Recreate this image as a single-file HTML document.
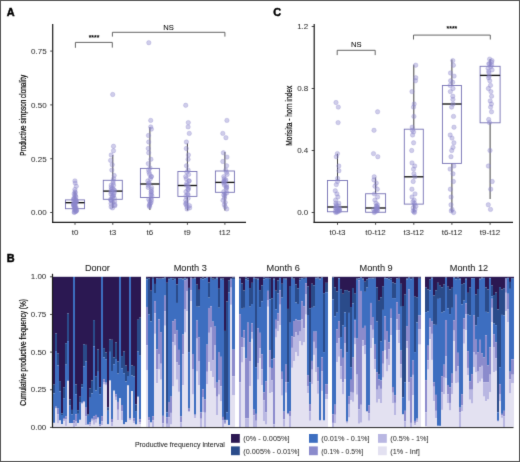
<!DOCTYPE html>
<html><head><meta charset="utf-8"><style>
html,body{margin:0;padding:0;background:#fff;}
svg{display:block;font-family:"Liberation Sans", sans-serif;}
</style></head><body>
<svg width="520" height="462" viewBox="0 0 520 462" shape-rendering="geometricPrecision">
<defs><filter id="soft" x="0" y="0" width="520" height="462" filterUnits="userSpaceOnUse" color-interpolation-filters="sRGB"><feConvolveMatrix order="3" kernelMatrix="0.00937 0.07804 0.00937 0.07804 0.65036 0.07804 0.00937 0.07804 0.00937" edgeMode="duplicate"/></filter></defs>
<g filter="url(#soft)">
<rect width="520" height="462" fill="#fff"/>
<rect x="0.5" y="0.5" width="519" height="461" fill="none" stroke="#555" stroke-width="1"/>
<text x="10.7" y="12.0" font-size="10.9" text-anchor="middle" fill="#000" font-weight="bold" dominant-baseline="central" stroke="#000" stroke-width="0.45">A</text>
<text x="277.2" y="12.4" font-size="10.9" text-anchor="middle" fill="#000" font-weight="bold" dominant-baseline="central" stroke="#000" stroke-width="0.45">C</text>
<text x="10.7" y="257.9" font-size="10.9" text-anchor="middle" fill="#000" font-weight="bold" dominant-baseline="central" stroke="#000" stroke-width="0.45">B</text>
<line x1="52.7" y1="24" x2="52.7" y2="222.9" stroke="#1a1a1a" stroke-width="1.2"/>
<line x1="52.1" y1="222.3" x2="246" y2="222.3" stroke="#1a1a1a" stroke-width="1.2"/>
<line x1="50.2" y1="212.5" x2="52.7" y2="212.5" stroke="#333" stroke-width="0.9"/>
<text x="46.7" y="212.85" font-size="8" text-anchor="end" fill="#333" font-weight="normal" dominant-baseline="central" stroke="#333" stroke-width="0.05">0.00</text>
<line x1="50.2" y1="158.7" x2="52.7" y2="158.7" stroke="#333" stroke-width="0.9"/>
<text x="46.7" y="159.04999999999998" font-size="8" text-anchor="end" fill="#333" font-weight="normal" dominant-baseline="central" stroke="#333" stroke-width="0.05">0.25</text>
<line x1="50.2" y1="104.9" x2="52.7" y2="104.9" stroke="#333" stroke-width="0.9"/>
<text x="46.7" y="105.25" font-size="8" text-anchor="end" fill="#333" font-weight="normal" dominant-baseline="central" stroke="#333" stroke-width="0.05">0.50</text>
<line x1="50.2" y1="51.10000000000002" x2="52.7" y2="51.10000000000002" stroke="#333" stroke-width="0.9"/>
<text x="46.7" y="51.450000000000024" font-size="8" text-anchor="end" fill="#333" font-weight="normal" dominant-baseline="central" stroke="#333" stroke-width="0.05">0.75</text>
<line x1="75.0" y1="222.3" x2="75.0" y2="224.8" stroke="#333" stroke-width="0.9"/>
<text x="75.0" y="232.6" font-size="8" text-anchor="middle" fill="#333" font-weight="normal" dominant-baseline="central" stroke="#333" stroke-width="0.05">t0</text>
<line x1="112.8" y1="222.3" x2="112.8" y2="224.8" stroke="#333" stroke-width="0.9"/>
<text x="112.8" y="232.6" font-size="8" text-anchor="middle" fill="#333" font-weight="normal" dominant-baseline="central" stroke="#333" stroke-width="0.05">t3</text>
<line x1="149.9" y1="222.3" x2="149.9" y2="224.8" stroke="#333" stroke-width="0.9"/>
<text x="149.9" y="232.6" font-size="8" text-anchor="middle" fill="#333" font-weight="normal" dominant-baseline="central" stroke="#333" stroke-width="0.05">t6</text>
<line x1="187.4" y1="222.3" x2="187.4" y2="224.8" stroke="#333" stroke-width="0.9"/>
<text x="187.4" y="232.6" font-size="8" text-anchor="middle" fill="#333" font-weight="normal" dominant-baseline="central" stroke="#333" stroke-width="0.05">t9</text>
<line x1="224.9" y1="222.3" x2="224.9" y2="224.8" stroke="#333" stroke-width="0.9"/>
<text x="224.9" y="232.6" font-size="8" text-anchor="middle" fill="#333" font-weight="normal" dominant-baseline="central" stroke="#333" stroke-width="0.05">t12</text>
<text x="22.85" y="115.2" font-size="9.3" text-anchor="middle" fill="#000" font-weight="normal" dominant-baseline="central" textLength="80.9" lengthAdjust="spacingAndGlyphs" transform="rotate(-90 22.85 115.2)" stroke="#000" stroke-width="0.2">Productive simpson clonality</text>
<polyline points="75.4,47.8 75.4,42.4 112.3,42.4 112.3,47.6" fill="none" stroke="#555" stroke-width="0.9"/>
<text x="94" y="37.6" font-size="6.8" text-anchor="middle" fill="#000" font-weight="bold" dominant-baseline="central" stroke="#000" stroke-width="0.05">****</text>
<polyline points="112.4,36.6 112.4,32.3 224.9,32.3 224.9,36.6" fill="none" stroke="#555" stroke-width="0.9"/>
<text x="168.6" y="27.1" font-size="7.6" text-anchor="middle" fill="#000" font-weight="normal" dominant-baseline="central" stroke="#000" stroke-width="0.05">NS</text>
<line x1="75.0" y1="191.5" x2="75.0" y2="199.9" stroke="#222" stroke-width="0.85"/>
<line x1="75.0" y1="208.7" x2="75.0" y2="212.2" stroke="#222" stroke-width="0.85"/>
<rect x="65.5" y="199.9" width="19" height="8.799999999999983" fill="none" stroke="#7671b4" stroke-width="0.9"/>
<line x1="65.5" y1="202.7" x2="84.5" y2="202.7" stroke="#111" stroke-width="1.35"/>
<circle cx="74.9" cy="180.9" r="2.2" fill="#8d88cc" fill-opacity="0.42" stroke="#8d88cc" stroke-opacity="0.42" stroke-width="0.7"/>
<circle cx="75.2" cy="183.1" r="2.2" fill="#8d88cc" fill-opacity="0.42" stroke="#8d88cc" stroke-opacity="0.42" stroke-width="0.7"/>
<circle cx="76.3" cy="186.3" r="2.2" fill="#8d88cc" fill-opacity="0.42" stroke="#8d88cc" stroke-opacity="0.42" stroke-width="0.7"/>
<circle cx="74.9" cy="189.5" r="2.2" fill="#8d88cc" fill-opacity="0.42" stroke="#8d88cc" stroke-opacity="0.42" stroke-width="0.7"/>
<circle cx="75.0" cy="191.7" r="2.2" fill="#8d88cc" fill-opacity="0.42" stroke="#8d88cc" stroke-opacity="0.42" stroke-width="0.7"/>
<circle cx="75.3" cy="192.8" r="2.2" fill="#8d88cc" fill-opacity="0.42" stroke="#8d88cc" stroke-opacity="0.42" stroke-width="0.7"/>
<circle cx="74.1" cy="193.9" r="2.2" fill="#8d88cc" fill-opacity="0.42" stroke="#8d88cc" stroke-opacity="0.42" stroke-width="0.7"/>
<circle cx="75.0" cy="194.9" r="2.2" fill="#8d88cc" fill-opacity="0.42" stroke="#8d88cc" stroke-opacity="0.42" stroke-width="0.7"/>
<circle cx="75.4" cy="196.0" r="2.2" fill="#8d88cc" fill-opacity="0.42" stroke="#8d88cc" stroke-opacity="0.42" stroke-width="0.7"/>
<circle cx="75.9" cy="197.1" r="2.2" fill="#8d88cc" fill-opacity="0.42" stroke="#8d88cc" stroke-opacity="0.42" stroke-width="0.7"/>
<circle cx="73.8" cy="198.2" r="2.2" fill="#8d88cc" fill-opacity="0.42" stroke="#8d88cc" stroke-opacity="0.42" stroke-width="0.7"/>
<circle cx="74.4" cy="198.6" r="2.2" fill="#8d88cc" fill-opacity="0.42" stroke="#8d88cc" stroke-opacity="0.42" stroke-width="0.7"/>
<circle cx="73.8" cy="199.3" r="2.2" fill="#8d88cc" fill-opacity="0.42" stroke="#8d88cc" stroke-opacity="0.42" stroke-width="0.7"/>
<circle cx="75.9" cy="199.9" r="2.2" fill="#8d88cc" fill-opacity="0.42" stroke="#8d88cc" stroke-opacity="0.42" stroke-width="0.7"/>
<circle cx="75.6" cy="200.3" r="2.2" fill="#8d88cc" fill-opacity="0.42" stroke="#8d88cc" stroke-opacity="0.42" stroke-width="0.7"/>
<circle cx="73.6" cy="200.8" r="2.2" fill="#8d88cc" fill-opacity="0.42" stroke="#8d88cc" stroke-opacity="0.42" stroke-width="0.7"/>
<circle cx="76.4" cy="201.4" r="2.2" fill="#8d88cc" fill-opacity="0.42" stroke="#8d88cc" stroke-opacity="0.42" stroke-width="0.7"/>
<circle cx="76.4" cy="202.1" r="2.2" fill="#8d88cc" fill-opacity="0.42" stroke="#8d88cc" stroke-opacity="0.42" stroke-width="0.7"/>
<circle cx="75.5" cy="202.5" r="2.2" fill="#8d88cc" fill-opacity="0.42" stroke="#8d88cc" stroke-opacity="0.42" stroke-width="0.7"/>
<circle cx="75.3" cy="202.9" r="2.2" fill="#8d88cc" fill-opacity="0.42" stroke="#8d88cc" stroke-opacity="0.42" stroke-width="0.7"/>
<circle cx="74.0" cy="203.4" r="2.2" fill="#8d88cc" fill-opacity="0.42" stroke="#8d88cc" stroke-opacity="0.42" stroke-width="0.7"/>
<circle cx="73.5" cy="203.8" r="2.2" fill="#8d88cc" fill-opacity="0.42" stroke="#8d88cc" stroke-opacity="0.42" stroke-width="0.7"/>
<circle cx="75.1" cy="204.2" r="2.2" fill="#8d88cc" fill-opacity="0.42" stroke="#8d88cc" stroke-opacity="0.42" stroke-width="0.7"/>
<circle cx="73.7" cy="204.7" r="2.2" fill="#8d88cc" fill-opacity="0.42" stroke="#8d88cc" stroke-opacity="0.42" stroke-width="0.7"/>
<circle cx="74.1" cy="205.1" r="2.2" fill="#8d88cc" fill-opacity="0.42" stroke="#8d88cc" stroke-opacity="0.42" stroke-width="0.7"/>
<circle cx="74.2" cy="205.5" r="2.2" fill="#8d88cc" fill-opacity="0.42" stroke="#8d88cc" stroke-opacity="0.42" stroke-width="0.7"/>
<circle cx="73.6" cy="206.0" r="2.2" fill="#8d88cc" fill-opacity="0.42" stroke="#8d88cc" stroke-opacity="0.42" stroke-width="0.7"/>
<circle cx="74.9" cy="206.4" r="2.2" fill="#8d88cc" fill-opacity="0.42" stroke="#8d88cc" stroke-opacity="0.42" stroke-width="0.7"/>
<circle cx="74.8" cy="206.8" r="2.2" fill="#8d88cc" fill-opacity="0.42" stroke="#8d88cc" stroke-opacity="0.42" stroke-width="0.7"/>
<circle cx="76.0" cy="207.3" r="2.2" fill="#8d88cc" fill-opacity="0.42" stroke="#8d88cc" stroke-opacity="0.42" stroke-width="0.7"/>
<circle cx="75.1" cy="207.7" r="2.2" fill="#8d88cc" fill-opacity="0.42" stroke="#8d88cc" stroke-opacity="0.42" stroke-width="0.7"/>
<circle cx="75.4" cy="208.1" r="2.2" fill="#8d88cc" fill-opacity="0.42" stroke="#8d88cc" stroke-opacity="0.42" stroke-width="0.7"/>
<circle cx="75.0" cy="208.5" r="2.2" fill="#8d88cc" fill-opacity="0.42" stroke="#8d88cc" stroke-opacity="0.42" stroke-width="0.7"/>
<circle cx="75.5" cy="209.0" r="2.2" fill="#8d88cc" fill-opacity="0.42" stroke="#8d88cc" stroke-opacity="0.42" stroke-width="0.7"/>
<circle cx="74.9" cy="209.4" r="2.2" fill="#8d88cc" fill-opacity="0.42" stroke="#8d88cc" stroke-opacity="0.42" stroke-width="0.7"/>
<circle cx="74.3" cy="209.8" r="2.2" fill="#8d88cc" fill-opacity="0.42" stroke="#8d88cc" stroke-opacity="0.42" stroke-width="0.7"/>
<circle cx="76.5" cy="210.3" r="2.2" fill="#8d88cc" fill-opacity="0.42" stroke="#8d88cc" stroke-opacity="0.42" stroke-width="0.7"/>
<circle cx="76.5" cy="210.7" r="2.2" fill="#8d88cc" fill-opacity="0.42" stroke="#8d88cc" stroke-opacity="0.42" stroke-width="0.7"/>
<circle cx="76.0" cy="211.1" r="2.2" fill="#8d88cc" fill-opacity="0.42" stroke="#8d88cc" stroke-opacity="0.42" stroke-width="0.7"/>
<circle cx="75.6" cy="211.6" r="2.2" fill="#8d88cc" fill-opacity="0.42" stroke="#8d88cc" stroke-opacity="0.42" stroke-width="0.7"/>
<circle cx="74.4" cy="212.0" r="2.2" fill="#8d88cc" fill-opacity="0.42" stroke="#8d88cc" stroke-opacity="0.42" stroke-width="0.7"/>
<circle cx="74.2" cy="212.4" r="2.2" fill="#8d88cc" fill-opacity="0.42" stroke="#8d88cc" stroke-opacity="0.42" stroke-width="0.7"/>
<line x1="112.8" y1="155" x2="112.8" y2="180.3" stroke="#222" stroke-width="0.85"/>
<line x1="112.8" y1="199.3" x2="112.8" y2="208.0" stroke="#222" stroke-width="0.85"/>
<rect x="103.3" y="180.3" width="19" height="19.0" fill="none" stroke="#7671b4" stroke-width="0.9"/>
<line x1="103.3" y1="191.1" x2="122.3" y2="191.1" stroke="#111" stroke-width="1.35"/>
<circle cx="112.7" cy="94.5" r="2.2" fill="#8d88cc" fill-opacity="0.42" stroke="#8d88cc" stroke-opacity="0.42" stroke-width="0.7"/>
<circle cx="113.5" cy="146.3" r="2.2" fill="#8d88cc" fill-opacity="0.42" stroke="#8d88cc" stroke-opacity="0.42" stroke-width="0.7"/>
<circle cx="113.5" cy="150.7" r="2.2" fill="#8d88cc" fill-opacity="0.42" stroke="#8d88cc" stroke-opacity="0.42" stroke-width="0.7"/>
<circle cx="111.2" cy="155.0" r="2.2" fill="#8d88cc" fill-opacity="0.42" stroke="#8d88cc" stroke-opacity="0.42" stroke-width="0.7"/>
<circle cx="110.6" cy="160.4" r="2.2" fill="#8d88cc" fill-opacity="0.42" stroke="#8d88cc" stroke-opacity="0.42" stroke-width="0.7"/>
<circle cx="112.2" cy="164.7" r="2.2" fill="#8d88cc" fill-opacity="0.42" stroke="#8d88cc" stroke-opacity="0.42" stroke-width="0.7"/>
<circle cx="111.8" cy="170.1" r="2.2" fill="#8d88cc" fill-opacity="0.42" stroke="#8d88cc" stroke-opacity="0.42" stroke-width="0.7"/>
<circle cx="114.2" cy="175.5" r="2.2" fill="#8d88cc" fill-opacity="0.42" stroke="#8d88cc" stroke-opacity="0.42" stroke-width="0.7"/>
<circle cx="113.6" cy="178.7" r="2.2" fill="#8d88cc" fill-opacity="0.42" stroke="#8d88cc" stroke-opacity="0.42" stroke-width="0.7"/>
<circle cx="113.2" cy="180.9" r="2.2" fill="#8d88cc" fill-opacity="0.42" stroke="#8d88cc" stroke-opacity="0.42" stroke-width="0.7"/>
<circle cx="113.1" cy="183.1" r="2.2" fill="#8d88cc" fill-opacity="0.42" stroke="#8d88cc" stroke-opacity="0.42" stroke-width="0.7"/>
<circle cx="113.5" cy="185.2" r="2.2" fill="#8d88cc" fill-opacity="0.42" stroke="#8d88cc" stroke-opacity="0.42" stroke-width="0.7"/>
<circle cx="111.2" cy="187.4" r="2.2" fill="#8d88cc" fill-opacity="0.42" stroke="#8d88cc" stroke-opacity="0.42" stroke-width="0.7"/>
<circle cx="112.5" cy="188.5" r="2.2" fill="#8d88cc" fill-opacity="0.42" stroke="#8d88cc" stroke-opacity="0.42" stroke-width="0.7"/>
<circle cx="111.3" cy="189.5" r="2.2" fill="#8d88cc" fill-opacity="0.42" stroke="#8d88cc" stroke-opacity="0.42" stroke-width="0.7"/>
<circle cx="114.6" cy="190.6" r="2.2" fill="#8d88cc" fill-opacity="0.42" stroke="#8d88cc" stroke-opacity="0.42" stroke-width="0.7"/>
<circle cx="110.9" cy="191.7" r="2.2" fill="#8d88cc" fill-opacity="0.42" stroke="#8d88cc" stroke-opacity="0.42" stroke-width="0.7"/>
<circle cx="114.2" cy="192.8" r="2.2" fill="#8d88cc" fill-opacity="0.42" stroke="#8d88cc" stroke-opacity="0.42" stroke-width="0.7"/>
<circle cx="110.9" cy="193.9" r="2.2" fill="#8d88cc" fill-opacity="0.42" stroke="#8d88cc" stroke-opacity="0.42" stroke-width="0.7"/>
<circle cx="113.6" cy="194.9" r="2.2" fill="#8d88cc" fill-opacity="0.42" stroke="#8d88cc" stroke-opacity="0.42" stroke-width="0.7"/>
<circle cx="112.1" cy="196.0" r="2.2" fill="#8d88cc" fill-opacity="0.42" stroke="#8d88cc" stroke-opacity="0.42" stroke-width="0.7"/>
<circle cx="112.4" cy="197.1" r="2.2" fill="#8d88cc" fill-opacity="0.42" stroke="#8d88cc" stroke-opacity="0.42" stroke-width="0.7"/>
<circle cx="114.3" cy="198.2" r="2.2" fill="#8d88cc" fill-opacity="0.42" stroke="#8d88cc" stroke-opacity="0.42" stroke-width="0.7"/>
<circle cx="110.7" cy="199.3" r="2.2" fill="#8d88cc" fill-opacity="0.42" stroke="#8d88cc" stroke-opacity="0.42" stroke-width="0.7"/>
<circle cx="110.9" cy="200.3" r="2.2" fill="#8d88cc" fill-opacity="0.42" stroke="#8d88cc" stroke-opacity="0.42" stroke-width="0.7"/>
<circle cx="114.6" cy="201.4" r="2.2" fill="#8d88cc" fill-opacity="0.42" stroke="#8d88cc" stroke-opacity="0.42" stroke-width="0.7"/>
<circle cx="112.8" cy="202.5" r="2.2" fill="#8d88cc" fill-opacity="0.42" stroke="#8d88cc" stroke-opacity="0.42" stroke-width="0.7"/>
<circle cx="111.0" cy="203.6" r="2.2" fill="#8d88cc" fill-opacity="0.42" stroke="#8d88cc" stroke-opacity="0.42" stroke-width="0.7"/>
<circle cx="114.9" cy="204.7" r="2.2" fill="#8d88cc" fill-opacity="0.42" stroke="#8d88cc" stroke-opacity="0.42" stroke-width="0.7"/>
<circle cx="114.8" cy="205.7" r="2.2" fill="#8d88cc" fill-opacity="0.42" stroke="#8d88cc" stroke-opacity="0.42" stroke-width="0.7"/>
<circle cx="111.1" cy="206.8" r="2.2" fill="#8d88cc" fill-opacity="0.42" stroke="#8d88cc" stroke-opacity="0.42" stroke-width="0.7"/>
<circle cx="112.5" cy="207.9" r="2.2" fill="#8d88cc" fill-opacity="0.42" stroke="#8d88cc" stroke-opacity="0.42" stroke-width="0.7"/>
<circle cx="111.2" cy="185.2" r="2.2" fill="#8d88cc" fill-opacity="0.42" stroke="#8d88cc" stroke-opacity="0.42" stroke-width="0.7"/>
<circle cx="112.0" cy="191.7" r="2.2" fill="#8d88cc" fill-opacity="0.42" stroke="#8d88cc" stroke-opacity="0.42" stroke-width="0.7"/>
<circle cx="113.3" cy="196.0" r="2.2" fill="#8d88cc" fill-opacity="0.42" stroke="#8d88cc" stroke-opacity="0.42" stroke-width="0.7"/>
<circle cx="111.3" cy="200.3" r="2.2" fill="#8d88cc" fill-opacity="0.42" stroke="#8d88cc" stroke-opacity="0.42" stroke-width="0.7"/>
<circle cx="113.7" cy="189.5" r="2.2" fill="#8d88cc" fill-opacity="0.42" stroke="#8d88cc" stroke-opacity="0.42" stroke-width="0.7"/>
<line x1="149.9" y1="127.2" x2="149.9" y2="168.4" stroke="#222" stroke-width="0.85"/>
<line x1="149.9" y1="197.5" x2="149.9" y2="210" stroke="#222" stroke-width="0.85"/>
<rect x="140.4" y="168.4" width="19" height="29.099999999999994" fill="none" stroke="#7671b4" stroke-width="0.9"/>
<line x1="140.4" y1="184" x2="159.4" y2="184" stroke="#111" stroke-width="1.35"/>
<circle cx="148.8" cy="42.7" r="2.2" fill="#8d88cc" fill-opacity="0.42" stroke="#8d88cc" stroke-opacity="0.42" stroke-width="0.7"/>
<circle cx="150.7" cy="120.4" r="2.2" fill="#8d88cc" fill-opacity="0.42" stroke="#8d88cc" stroke-opacity="0.42" stroke-width="0.7"/>
<circle cx="150.7" cy="126.9" r="2.2" fill="#8d88cc" fill-opacity="0.42" stroke="#8d88cc" stroke-opacity="0.42" stroke-width="0.7"/>
<circle cx="151.4" cy="129.1" r="2.2" fill="#8d88cc" fill-opacity="0.42" stroke="#8d88cc" stroke-opacity="0.42" stroke-width="0.7"/>
<circle cx="148.5" cy="135.5" r="2.2" fill="#8d88cc" fill-opacity="0.42" stroke="#8d88cc" stroke-opacity="0.42" stroke-width="0.7"/>
<circle cx="148.7" cy="142.0" r="2.2" fill="#8d88cc" fill-opacity="0.42" stroke="#8d88cc" stroke-opacity="0.42" stroke-width="0.7"/>
<circle cx="148.3" cy="148.5" r="2.2" fill="#8d88cc" fill-opacity="0.42" stroke="#8d88cc" stroke-opacity="0.42" stroke-width="0.7"/>
<circle cx="148.7" cy="152.8" r="2.2" fill="#8d88cc" fill-opacity="0.42" stroke="#8d88cc" stroke-opacity="0.42" stroke-width="0.7"/>
<circle cx="150.9" cy="159.3" r="2.2" fill="#8d88cc" fill-opacity="0.42" stroke="#8d88cc" stroke-opacity="0.42" stroke-width="0.7"/>
<circle cx="148.3" cy="163.6" r="2.2" fill="#8d88cc" fill-opacity="0.42" stroke="#8d88cc" stroke-opacity="0.42" stroke-width="0.7"/>
<circle cx="150.0" cy="167.9" r="2.2" fill="#8d88cc" fill-opacity="0.42" stroke="#8d88cc" stroke-opacity="0.42" stroke-width="0.7"/>
<circle cx="148.6" cy="170.1" r="2.2" fill="#8d88cc" fill-opacity="0.42" stroke="#8d88cc" stroke-opacity="0.42" stroke-width="0.7"/>
<circle cx="149.0" cy="172.3" r="2.2" fill="#8d88cc" fill-opacity="0.42" stroke="#8d88cc" stroke-opacity="0.42" stroke-width="0.7"/>
<circle cx="149.6" cy="174.4" r="2.2" fill="#8d88cc" fill-opacity="0.42" stroke="#8d88cc" stroke-opacity="0.42" stroke-width="0.7"/>
<circle cx="151.4" cy="176.6" r="2.2" fill="#8d88cc" fill-opacity="0.42" stroke="#8d88cc" stroke-opacity="0.42" stroke-width="0.7"/>
<circle cx="150.4" cy="178.7" r="2.2" fill="#8d88cc" fill-opacity="0.42" stroke="#8d88cc" stroke-opacity="0.42" stroke-width="0.7"/>
<circle cx="147.8" cy="180.9" r="2.2" fill="#8d88cc" fill-opacity="0.42" stroke="#8d88cc" stroke-opacity="0.42" stroke-width="0.7"/>
<circle cx="148.9" cy="183.1" r="2.2" fill="#8d88cc" fill-opacity="0.42" stroke="#8d88cc" stroke-opacity="0.42" stroke-width="0.7"/>
<circle cx="148.3" cy="185.2" r="2.2" fill="#8d88cc" fill-opacity="0.42" stroke="#8d88cc" stroke-opacity="0.42" stroke-width="0.7"/>
<circle cx="151.5" cy="187.4" r="2.2" fill="#8d88cc" fill-opacity="0.42" stroke="#8d88cc" stroke-opacity="0.42" stroke-width="0.7"/>
<circle cx="151.3" cy="189.5" r="2.2" fill="#8d88cc" fill-opacity="0.42" stroke="#8d88cc" stroke-opacity="0.42" stroke-width="0.7"/>
<circle cx="151.2" cy="191.7" r="2.2" fill="#8d88cc" fill-opacity="0.42" stroke="#8d88cc" stroke-opacity="0.42" stroke-width="0.7"/>
<circle cx="151.3" cy="193.9" r="2.2" fill="#8d88cc" fill-opacity="0.42" stroke="#8d88cc" stroke-opacity="0.42" stroke-width="0.7"/>
<circle cx="151.0" cy="194.9" r="2.2" fill="#8d88cc" fill-opacity="0.42" stroke="#8d88cc" stroke-opacity="0.42" stroke-width="0.7"/>
<circle cx="151.9" cy="196.0" r="2.2" fill="#8d88cc" fill-opacity="0.42" stroke="#8d88cc" stroke-opacity="0.42" stroke-width="0.7"/>
<circle cx="151.2" cy="198.2" r="2.2" fill="#8d88cc" fill-opacity="0.42" stroke="#8d88cc" stroke-opacity="0.42" stroke-width="0.7"/>
<circle cx="148.8" cy="199.3" r="2.2" fill="#8d88cc" fill-opacity="0.42" stroke="#8d88cc" stroke-opacity="0.42" stroke-width="0.7"/>
<circle cx="151.4" cy="200.3" r="2.2" fill="#8d88cc" fill-opacity="0.42" stroke="#8d88cc" stroke-opacity="0.42" stroke-width="0.7"/>
<circle cx="149.8" cy="201.4" r="2.2" fill="#8d88cc" fill-opacity="0.42" stroke="#8d88cc" stroke-opacity="0.42" stroke-width="0.7"/>
<circle cx="151.0" cy="202.5" r="2.2" fill="#8d88cc" fill-opacity="0.42" stroke="#8d88cc" stroke-opacity="0.42" stroke-width="0.7"/>
<circle cx="150.2" cy="203.6" r="2.2" fill="#8d88cc" fill-opacity="0.42" stroke="#8d88cc" stroke-opacity="0.42" stroke-width="0.7"/>
<circle cx="149.6" cy="204.7" r="2.2" fill="#8d88cc" fill-opacity="0.42" stroke="#8d88cc" stroke-opacity="0.42" stroke-width="0.7"/>
<circle cx="149.3" cy="205.7" r="2.2" fill="#8d88cc" fill-opacity="0.42" stroke="#8d88cc" stroke-opacity="0.42" stroke-width="0.7"/>
<circle cx="149.6" cy="206.8" r="2.2" fill="#8d88cc" fill-opacity="0.42" stroke="#8d88cc" stroke-opacity="0.42" stroke-width="0.7"/>
<circle cx="149.1" cy="183.1" r="2.2" fill="#8d88cc" fill-opacity="0.42" stroke="#8d88cc" stroke-opacity="0.42" stroke-width="0.7"/>
<circle cx="148.2" cy="187.4" r="2.2" fill="#8d88cc" fill-opacity="0.42" stroke="#8d88cc" stroke-opacity="0.42" stroke-width="0.7"/>
<circle cx="151.3" cy="191.7" r="2.2" fill="#8d88cc" fill-opacity="0.42" stroke="#8d88cc" stroke-opacity="0.42" stroke-width="0.7"/>
<circle cx="151.2" cy="176.6" r="2.2" fill="#8d88cc" fill-opacity="0.42" stroke="#8d88cc" stroke-opacity="0.42" stroke-width="0.7"/>
<line x1="187.4" y1="143.3" x2="187.4" y2="171.5" stroke="#222" stroke-width="0.85"/>
<line x1="187.4" y1="196.4" x2="187.4" y2="210.5" stroke="#222" stroke-width="0.85"/>
<rect x="177.9" y="171.5" width="19" height="24.900000000000006" fill="none" stroke="#7671b4" stroke-width="0.9"/>
<line x1="177.9" y1="185.5" x2="196.9" y2="185.5" stroke="#111" stroke-width="1.35"/>
<circle cx="185.7" cy="105.3" r="2.2" fill="#8d88cc" fill-opacity="0.42" stroke="#8d88cc" stroke-opacity="0.42" stroke-width="0.7"/>
<circle cx="188.3" cy="122.6" r="2.2" fill="#8d88cc" fill-opacity="0.42" stroke="#8d88cc" stroke-opacity="0.42" stroke-width="0.7"/>
<circle cx="188.1" cy="126.9" r="2.2" fill="#8d88cc" fill-opacity="0.42" stroke="#8d88cc" stroke-opacity="0.42" stroke-width="0.7"/>
<circle cx="189.3" cy="133.4" r="2.2" fill="#8d88cc" fill-opacity="0.42" stroke="#8d88cc" stroke-opacity="0.42" stroke-width="0.7"/>
<circle cx="186.4" cy="142.0" r="2.2" fill="#8d88cc" fill-opacity="0.42" stroke="#8d88cc" stroke-opacity="0.42" stroke-width="0.7"/>
<circle cx="186.3" cy="148.5" r="2.2" fill="#8d88cc" fill-opacity="0.42" stroke="#8d88cc" stroke-opacity="0.42" stroke-width="0.7"/>
<circle cx="188.4" cy="155.0" r="2.2" fill="#8d88cc" fill-opacity="0.42" stroke="#8d88cc" stroke-opacity="0.42" stroke-width="0.7"/>
<circle cx="188.1" cy="159.3" r="2.2" fill="#8d88cc" fill-opacity="0.42" stroke="#8d88cc" stroke-opacity="0.42" stroke-width="0.7"/>
<circle cx="186.5" cy="165.8" r="2.2" fill="#8d88cc" fill-opacity="0.42" stroke="#8d88cc" stroke-opacity="0.42" stroke-width="0.7"/>
<circle cx="188.2" cy="170.1" r="2.2" fill="#8d88cc" fill-opacity="0.42" stroke="#8d88cc" stroke-opacity="0.42" stroke-width="0.7"/>
<circle cx="186.9" cy="172.3" r="2.2" fill="#8d88cc" fill-opacity="0.42" stroke="#8d88cc" stroke-opacity="0.42" stroke-width="0.7"/>
<circle cx="188.6" cy="174.4" r="2.2" fill="#8d88cc" fill-opacity="0.42" stroke="#8d88cc" stroke-opacity="0.42" stroke-width="0.7"/>
<circle cx="185.7" cy="176.6" r="2.2" fill="#8d88cc" fill-opacity="0.42" stroke="#8d88cc" stroke-opacity="0.42" stroke-width="0.7"/>
<circle cx="186.2" cy="178.7" r="2.2" fill="#8d88cc" fill-opacity="0.42" stroke="#8d88cc" stroke-opacity="0.42" stroke-width="0.7"/>
<circle cx="189.2" cy="180.9" r="2.2" fill="#8d88cc" fill-opacity="0.42" stroke="#8d88cc" stroke-opacity="0.42" stroke-width="0.7"/>
<circle cx="186.8" cy="183.1" r="2.2" fill="#8d88cc" fill-opacity="0.42" stroke="#8d88cc" stroke-opacity="0.42" stroke-width="0.7"/>
<circle cx="186.3" cy="185.2" r="2.2" fill="#8d88cc" fill-opacity="0.42" stroke="#8d88cc" stroke-opacity="0.42" stroke-width="0.7"/>
<circle cx="188.7" cy="187.4" r="2.2" fill="#8d88cc" fill-opacity="0.42" stroke="#8d88cc" stroke-opacity="0.42" stroke-width="0.7"/>
<circle cx="188.0" cy="189.5" r="2.2" fill="#8d88cc" fill-opacity="0.42" stroke="#8d88cc" stroke-opacity="0.42" stroke-width="0.7"/>
<circle cx="185.9" cy="191.7" r="2.2" fill="#8d88cc" fill-opacity="0.42" stroke="#8d88cc" stroke-opacity="0.42" stroke-width="0.7"/>
<circle cx="187.6" cy="193.9" r="2.2" fill="#8d88cc" fill-opacity="0.42" stroke="#8d88cc" stroke-opacity="0.42" stroke-width="0.7"/>
<circle cx="188.1" cy="194.9" r="2.2" fill="#8d88cc" fill-opacity="0.42" stroke="#8d88cc" stroke-opacity="0.42" stroke-width="0.7"/>
<circle cx="185.9" cy="196.0" r="2.2" fill="#8d88cc" fill-opacity="0.42" stroke="#8d88cc" stroke-opacity="0.42" stroke-width="0.7"/>
<circle cx="188.1" cy="198.2" r="2.2" fill="#8d88cc" fill-opacity="0.42" stroke="#8d88cc" stroke-opacity="0.42" stroke-width="0.7"/>
<circle cx="185.7" cy="200.3" r="2.2" fill="#8d88cc" fill-opacity="0.42" stroke="#8d88cc" stroke-opacity="0.42" stroke-width="0.7"/>
<circle cx="186.7" cy="202.5" r="2.2" fill="#8d88cc" fill-opacity="0.42" stroke="#8d88cc" stroke-opacity="0.42" stroke-width="0.7"/>
<circle cx="185.6" cy="203.6" r="2.2" fill="#8d88cc" fill-opacity="0.42" stroke="#8d88cc" stroke-opacity="0.42" stroke-width="0.7"/>
<circle cx="186.1" cy="204.7" r="2.2" fill="#8d88cc" fill-opacity="0.42" stroke="#8d88cc" stroke-opacity="0.42" stroke-width="0.7"/>
<circle cx="189.5" cy="205.7" r="2.2" fill="#8d88cc" fill-opacity="0.42" stroke="#8d88cc" stroke-opacity="0.42" stroke-width="0.7"/>
<circle cx="187.0" cy="206.8" r="2.2" fill="#8d88cc" fill-opacity="0.42" stroke="#8d88cc" stroke-opacity="0.42" stroke-width="0.7"/>
<circle cx="189.6" cy="207.9" r="2.2" fill="#8d88cc" fill-opacity="0.42" stroke="#8d88cc" stroke-opacity="0.42" stroke-width="0.7"/>
<circle cx="187.1" cy="209.0" r="2.2" fill="#8d88cc" fill-opacity="0.42" stroke="#8d88cc" stroke-opacity="0.42" stroke-width="0.7"/>
<circle cx="187.9" cy="185.2" r="2.2" fill="#8d88cc" fill-opacity="0.42" stroke="#8d88cc" stroke-opacity="0.42" stroke-width="0.7"/>
<circle cx="189.0" cy="180.9" r="2.2" fill="#8d88cc" fill-opacity="0.42" stroke="#8d88cc" stroke-opacity="0.42" stroke-width="0.7"/>
<circle cx="188.2" cy="189.5" r="2.2" fill="#8d88cc" fill-opacity="0.42" stroke="#8d88cc" stroke-opacity="0.42" stroke-width="0.7"/>
<line x1="224.9" y1="152" x2="224.9" y2="171" stroke="#222" stroke-width="0.85"/>
<line x1="224.9" y1="192.3" x2="224.9" y2="210.5" stroke="#222" stroke-width="0.85"/>
<rect x="215.4" y="171" width="19" height="21.30000000000001" fill="none" stroke="#7671b4" stroke-width="0.9"/>
<line x1="215.4" y1="182.4" x2="234.4" y2="182.4" stroke="#111" stroke-width="1.35"/>
<circle cx="226.9" cy="120.4" r="2.2" fill="#8d88cc" fill-opacity="0.42" stroke="#8d88cc" stroke-opacity="0.42" stroke-width="0.7"/>
<circle cx="222.8" cy="133.4" r="2.2" fill="#8d88cc" fill-opacity="0.42" stroke="#8d88cc" stroke-opacity="0.42" stroke-width="0.7"/>
<circle cx="225.9" cy="137.7" r="2.2" fill="#8d88cc" fill-opacity="0.42" stroke="#8d88cc" stroke-opacity="0.42" stroke-width="0.7"/>
<circle cx="223.4" cy="152.8" r="2.2" fill="#8d88cc" fill-opacity="0.42" stroke="#8d88cc" stroke-opacity="0.42" stroke-width="0.7"/>
<circle cx="227.0" cy="157.1" r="2.2" fill="#8d88cc" fill-opacity="0.42" stroke="#8d88cc" stroke-opacity="0.42" stroke-width="0.7"/>
<circle cx="222.8" cy="161.5" r="2.2" fill="#8d88cc" fill-opacity="0.42" stroke="#8d88cc" stroke-opacity="0.42" stroke-width="0.7"/>
<circle cx="226.6" cy="165.8" r="2.2" fill="#8d88cc" fill-opacity="0.42" stroke="#8d88cc" stroke-opacity="0.42" stroke-width="0.7"/>
<circle cx="225.7" cy="170.1" r="2.2" fill="#8d88cc" fill-opacity="0.42" stroke="#8d88cc" stroke-opacity="0.42" stroke-width="0.7"/>
<circle cx="226.5" cy="172.3" r="2.2" fill="#8d88cc" fill-opacity="0.42" stroke="#8d88cc" stroke-opacity="0.42" stroke-width="0.7"/>
<circle cx="227.1" cy="174.4" r="2.2" fill="#8d88cc" fill-opacity="0.42" stroke="#8d88cc" stroke-opacity="0.42" stroke-width="0.7"/>
<circle cx="223.8" cy="176.6" r="2.2" fill="#8d88cc" fill-opacity="0.42" stroke="#8d88cc" stroke-opacity="0.42" stroke-width="0.7"/>
<circle cx="224.2" cy="178.7" r="2.2" fill="#8d88cc" fill-opacity="0.42" stroke="#8d88cc" stroke-opacity="0.42" stroke-width="0.7"/>
<circle cx="225.8" cy="179.8" r="2.2" fill="#8d88cc" fill-opacity="0.42" stroke="#8d88cc" stroke-opacity="0.42" stroke-width="0.7"/>
<circle cx="223.9" cy="180.9" r="2.2" fill="#8d88cc" fill-opacity="0.42" stroke="#8d88cc" stroke-opacity="0.42" stroke-width="0.7"/>
<circle cx="223.9" cy="182.0" r="2.2" fill="#8d88cc" fill-opacity="0.42" stroke="#8d88cc" stroke-opacity="0.42" stroke-width="0.7"/>
<circle cx="223.7" cy="183.1" r="2.2" fill="#8d88cc" fill-opacity="0.42" stroke="#8d88cc" stroke-opacity="0.42" stroke-width="0.7"/>
<circle cx="226.5" cy="185.2" r="2.2" fill="#8d88cc" fill-opacity="0.42" stroke="#8d88cc" stroke-opacity="0.42" stroke-width="0.7"/>
<circle cx="226.5" cy="187.4" r="2.2" fill="#8d88cc" fill-opacity="0.42" stroke="#8d88cc" stroke-opacity="0.42" stroke-width="0.7"/>
<circle cx="226.2" cy="189.5" r="2.2" fill="#8d88cc" fill-opacity="0.42" stroke="#8d88cc" stroke-opacity="0.42" stroke-width="0.7"/>
<circle cx="223.7" cy="191.7" r="2.2" fill="#8d88cc" fill-opacity="0.42" stroke="#8d88cc" stroke-opacity="0.42" stroke-width="0.7"/>
<circle cx="226.8" cy="192.8" r="2.2" fill="#8d88cc" fill-opacity="0.42" stroke="#8d88cc" stroke-opacity="0.42" stroke-width="0.7"/>
<circle cx="225.0" cy="193.9" r="2.2" fill="#8d88cc" fill-opacity="0.42" stroke="#8d88cc" stroke-opacity="0.42" stroke-width="0.7"/>
<circle cx="223.7" cy="194.9" r="2.2" fill="#8d88cc" fill-opacity="0.42" stroke="#8d88cc" stroke-opacity="0.42" stroke-width="0.7"/>
<circle cx="224.7" cy="196.0" r="2.2" fill="#8d88cc" fill-opacity="0.42" stroke="#8d88cc" stroke-opacity="0.42" stroke-width="0.7"/>
<circle cx="224.5" cy="198.2" r="2.2" fill="#8d88cc" fill-opacity="0.42" stroke="#8d88cc" stroke-opacity="0.42" stroke-width="0.7"/>
<circle cx="223.0" cy="200.3" r="2.2" fill="#8d88cc" fill-opacity="0.42" stroke="#8d88cc" stroke-opacity="0.42" stroke-width="0.7"/>
<circle cx="225.2" cy="202.5" r="2.2" fill="#8d88cc" fill-opacity="0.42" stroke="#8d88cc" stroke-opacity="0.42" stroke-width="0.7"/>
<circle cx="224.3" cy="204.7" r="2.2" fill="#8d88cc" fill-opacity="0.42" stroke="#8d88cc" stroke-opacity="0.42" stroke-width="0.7"/>
<circle cx="225.2" cy="206.8" r="2.2" fill="#8d88cc" fill-opacity="0.42" stroke="#8d88cc" stroke-opacity="0.42" stroke-width="0.7"/>
<circle cx="226.8" cy="209.0" r="2.2" fill="#8d88cc" fill-opacity="0.42" stroke="#8d88cc" stroke-opacity="0.42" stroke-width="0.7"/>
<circle cx="225.5" cy="180.9" r="2.2" fill="#8d88cc" fill-opacity="0.42" stroke="#8d88cc" stroke-opacity="0.42" stroke-width="0.7"/>
<circle cx="224.5" cy="185.2" r="2.2" fill="#8d88cc" fill-opacity="0.42" stroke="#8d88cc" stroke-opacity="0.42" stroke-width="0.7"/>
<circle cx="226.5" cy="187.4" r="2.2" fill="#8d88cc" fill-opacity="0.42" stroke="#8d88cc" stroke-opacity="0.42" stroke-width="0.7"/>
<line x1="314.2" y1="24" x2="314.2" y2="222.9" stroke="#1a1a1a" stroke-width="1.2"/>
<line x1="313.59999999999997" y1="222.3" x2="513" y2="222.3" stroke="#1a1a1a" stroke-width="1.2"/>
<line x1="311.7" y1="212.5" x2="314.2" y2="212.5" stroke="#333" stroke-width="0.9"/>
<text x="308.3" y="212.2" font-size="8" text-anchor="end" fill="#333" font-weight="normal" dominant-baseline="central" stroke="#333" stroke-width="0.05">0.0</text>
<line x1="311.7" y1="150.5" x2="314.2" y2="150.5" stroke="#333" stroke-width="0.9"/>
<text x="308.3" y="150.2" font-size="8" text-anchor="end" fill="#333" font-weight="normal" dominant-baseline="central" stroke="#333" stroke-width="0.05">0.4</text>
<line x1="311.7" y1="88.5" x2="314.2" y2="88.5" stroke="#333" stroke-width="0.9"/>
<text x="308.3" y="88.2" font-size="8" text-anchor="end" fill="#333" font-weight="normal" dominant-baseline="central" stroke="#333" stroke-width="0.05">0.8</text>
<line x1="311.7" y1="26.5" x2="314.2" y2="26.5" stroke="#333" stroke-width="0.9"/>
<text x="308.3" y="26.2" font-size="8" text-anchor="end" fill="#333" font-weight="normal" dominant-baseline="central" stroke="#333" stroke-width="0.05">1.2</text>
<line x1="337.5" y1="222.3" x2="337.5" y2="224.8" stroke="#333" stroke-width="0.9"/>
<text x="337.5" y="232.6" font-size="8" text-anchor="middle" fill="#333" font-weight="normal" dominant-baseline="central" stroke="#333" stroke-width="0.05">t0-t3</text>
<line x1="375.6" y1="222.3" x2="375.6" y2="224.8" stroke="#333" stroke-width="0.9"/>
<text x="375.6" y="232.6" font-size="8" text-anchor="middle" fill="#333" font-weight="normal" dominant-baseline="central" stroke="#333" stroke-width="0.05">t0-t12</text>
<line x1="413.8" y1="222.3" x2="413.8" y2="224.8" stroke="#333" stroke-width="0.9"/>
<text x="413.8" y="232.6" font-size="8" text-anchor="middle" fill="#333" font-weight="normal" dominant-baseline="central" stroke="#333" stroke-width="0.05">t3-t12</text>
<line x1="451.9" y1="222.3" x2="451.9" y2="224.8" stroke="#333" stroke-width="0.9"/>
<text x="451.9" y="232.6" font-size="8" text-anchor="middle" fill="#333" font-weight="normal" dominant-baseline="central" stroke="#333" stroke-width="0.05">t6-t12</text>
<line x1="490.1" y1="222.3" x2="490.1" y2="224.8" stroke="#333" stroke-width="0.9"/>
<text x="490.1" y="232.6" font-size="8" text-anchor="middle" fill="#333" font-weight="normal" dominant-baseline="central" stroke="#333" stroke-width="0.05">t9-t12</text>
<text x="288.8" y="115.75" font-size="9.3" text-anchor="middle" fill="#000" font-weight="normal" dominant-baseline="central" textLength="60.1" lengthAdjust="spacingAndGlyphs" transform="rotate(-90 288.8 115.75)" stroke="#000" stroke-width="0.2">Morisita - horn index</text>
<polyline points="337.2,55.1 337.2,50.3 375.2,50.3 375.2,55.1" fill="none" stroke="#555" stroke-width="0.9"/>
<text x="356.2" y="44.6" font-size="7.6" text-anchor="middle" fill="#000" font-weight="normal" dominant-baseline="central" stroke="#000" stroke-width="0.05">NS</text>
<polyline points="413.5,39.5 413.5,35.1 490.3,35.1 490.3,39.5" fill="none" stroke="#555" stroke-width="0.9"/>
<text x="451.9" y="28.7" font-size="6.8" text-anchor="middle" fill="#000" font-weight="bold" dominant-baseline="central" stroke="#000" stroke-width="0.05">****</text>
<line x1="337.5" y1="153.75" x2="337.5" y2="180.5" stroke="#222" stroke-width="0.85"/>
<line x1="337.5" y1="211.75" x2="337.5" y2="212.5" stroke="#222" stroke-width="0.85"/>
<rect x="327.5" y="180.5" width="20" height="31.25" fill="none" stroke="#7671b4" stroke-width="0.9"/>
<line x1="327.5" y1="207" x2="347.5" y2="207" stroke="#111" stroke-width="1.35"/>
<circle cx="336.0" cy="102.5" r="2.2" fill="#8d88cc" fill-opacity="0.42" stroke="#8d88cc" stroke-opacity="0.42" stroke-width="0.7"/>
<circle cx="338.3" cy="107.1" r="2.2" fill="#8d88cc" fill-opacity="0.42" stroke="#8d88cc" stroke-opacity="0.42" stroke-width="0.7"/>
<circle cx="338.1" cy="122.6" r="2.2" fill="#8d88cc" fill-opacity="0.42" stroke="#8d88cc" stroke-opacity="0.42" stroke-width="0.7"/>
<circle cx="337.4" cy="153.6" r="2.2" fill="#8d88cc" fill-opacity="0.42" stroke="#8d88cc" stroke-opacity="0.42" stroke-width="0.7"/>
<circle cx="336.3" cy="156.7" r="2.2" fill="#8d88cc" fill-opacity="0.42" stroke="#8d88cc" stroke-opacity="0.42" stroke-width="0.7"/>
<circle cx="338.8" cy="166.0" r="2.2" fill="#8d88cc" fill-opacity="0.42" stroke="#8d88cc" stroke-opacity="0.42" stroke-width="0.7"/>
<circle cx="338.9" cy="170.7" r="2.2" fill="#8d88cc" fill-opacity="0.42" stroke="#8d88cc" stroke-opacity="0.42" stroke-width="0.7"/>
<circle cx="337.6" cy="178.4" r="2.2" fill="#8d88cc" fill-opacity="0.42" stroke="#8d88cc" stroke-opacity="0.42" stroke-width="0.7"/>
<circle cx="337.5" cy="181.5" r="2.2" fill="#8d88cc" fill-opacity="0.42" stroke="#8d88cc" stroke-opacity="0.42" stroke-width="0.7"/>
<circle cx="336.3" cy="184.6" r="2.2" fill="#8d88cc" fill-opacity="0.42" stroke="#8d88cc" stroke-opacity="0.42" stroke-width="0.7"/>
<circle cx="335.3" cy="190.8" r="2.2" fill="#8d88cc" fill-opacity="0.42" stroke="#8d88cc" stroke-opacity="0.42" stroke-width="0.7"/>
<circle cx="336.9" cy="193.9" r="2.2" fill="#8d88cc" fill-opacity="0.42" stroke="#8d88cc" stroke-opacity="0.42" stroke-width="0.7"/>
<circle cx="337.9" cy="197.0" r="2.2" fill="#8d88cc" fill-opacity="0.42" stroke="#8d88cc" stroke-opacity="0.42" stroke-width="0.7"/>
<circle cx="335.6" cy="200.1" r="2.2" fill="#8d88cc" fill-opacity="0.42" stroke="#8d88cc" stroke-opacity="0.42" stroke-width="0.7"/>
<circle cx="338.8" cy="203.2" r="2.2" fill="#8d88cc" fill-opacity="0.42" stroke="#8d88cc" stroke-opacity="0.42" stroke-width="0.7"/>
<circle cx="336.3" cy="204.8" r="2.2" fill="#8d88cc" fill-opacity="0.42" stroke="#8d88cc" stroke-opacity="0.42" stroke-width="0.7"/>
<circle cx="336.3" cy="206.3" r="2.2" fill="#8d88cc" fill-opacity="0.42" stroke="#8d88cc" stroke-opacity="0.42" stroke-width="0.7"/>
<circle cx="335.5" cy="207.8" r="2.2" fill="#8d88cc" fill-opacity="0.42" stroke="#8d88cc" stroke-opacity="0.42" stroke-width="0.7"/>
<circle cx="339.7" cy="208.6" r="2.2" fill="#8d88cc" fill-opacity="0.42" stroke="#8d88cc" stroke-opacity="0.42" stroke-width="0.7"/>
<circle cx="338.6" cy="209.4" r="2.2" fill="#8d88cc" fill-opacity="0.42" stroke="#8d88cc" stroke-opacity="0.42" stroke-width="0.7"/>
<circle cx="339.2" cy="210.2" r="2.2" fill="#8d88cc" fill-opacity="0.42" stroke="#8d88cc" stroke-opacity="0.42" stroke-width="0.7"/>
<circle cx="338.0" cy="210.9" r="2.2" fill="#8d88cc" fill-opacity="0.42" stroke="#8d88cc" stroke-opacity="0.42" stroke-width="0.7"/>
<circle cx="335.4" cy="211.3" r="2.2" fill="#8d88cc" fill-opacity="0.42" stroke="#8d88cc" stroke-opacity="0.42" stroke-width="0.7"/>
<circle cx="336.7" cy="211.7" r="2.2" fill="#8d88cc" fill-opacity="0.42" stroke="#8d88cc" stroke-opacity="0.42" stroke-width="0.7"/>
<circle cx="337.5" cy="212.0" r="2.2" fill="#8d88cc" fill-opacity="0.42" stroke="#8d88cc" stroke-opacity="0.42" stroke-width="0.7"/>
<circle cx="335.8" cy="212.5" r="2.2" fill="#8d88cc" fill-opacity="0.42" stroke="#8d88cc" stroke-opacity="0.42" stroke-width="0.7"/>
<circle cx="339.5" cy="210.9" r="2.2" fill="#8d88cc" fill-opacity="0.42" stroke="#8d88cc" stroke-opacity="0.42" stroke-width="0.7"/>
<circle cx="336.9" cy="209.4" r="2.2" fill="#8d88cc" fill-opacity="0.42" stroke="#8d88cc" stroke-opacity="0.42" stroke-width="0.7"/>
<circle cx="336.0" cy="207.8" r="2.2" fill="#8d88cc" fill-opacity="0.42" stroke="#8d88cc" stroke-opacity="0.42" stroke-width="0.7"/>
<circle cx="338.9" cy="206.3" r="2.2" fill="#8d88cc" fill-opacity="0.42" stroke="#8d88cc" stroke-opacity="0.42" stroke-width="0.7"/>
<circle cx="335.8" cy="203.2" r="2.2" fill="#8d88cc" fill-opacity="0.42" stroke="#8d88cc" stroke-opacity="0.42" stroke-width="0.7"/>
<line x1="375.6" y1="177.5" x2="375.6" y2="193.75" stroke="#222" stroke-width="0.85"/>
<line x1="375.6" y1="212.25" x2="375.6" y2="212.5" stroke="#222" stroke-width="0.85"/>
<rect x="365.6" y="193.75" width="20" height="18.5" fill="none" stroke="#7671b4" stroke-width="0.9"/>
<line x1="365.6" y1="208" x2="385.6" y2="208" stroke="#111" stroke-width="1.35"/>
<circle cx="377.6" cy="111.8" r="2.2" fill="#8d88cc" fill-opacity="0.42" stroke="#8d88cc" stroke-opacity="0.42" stroke-width="0.7"/>
<circle cx="374.0" cy="130.3" r="2.2" fill="#8d88cc" fill-opacity="0.42" stroke="#8d88cc" stroke-opacity="0.42" stroke-width="0.7"/>
<circle cx="373.5" cy="153.6" r="2.2" fill="#8d88cc" fill-opacity="0.42" stroke="#8d88cc" stroke-opacity="0.42" stroke-width="0.7"/>
<circle cx="377.8" cy="156.7" r="2.2" fill="#8d88cc" fill-opacity="0.42" stroke="#8d88cc" stroke-opacity="0.42" stroke-width="0.7"/>
<circle cx="374.2" cy="176.8" r="2.2" fill="#8d88cc" fill-opacity="0.42" stroke="#8d88cc" stroke-opacity="0.42" stroke-width="0.7"/>
<circle cx="373.9" cy="179.9" r="2.2" fill="#8d88cc" fill-opacity="0.42" stroke="#8d88cc" stroke-opacity="0.42" stroke-width="0.7"/>
<circle cx="376.3" cy="183.1" r="2.2" fill="#8d88cc" fill-opacity="0.42" stroke="#8d88cc" stroke-opacity="0.42" stroke-width="0.7"/>
<circle cx="374.9" cy="186.2" r="2.2" fill="#8d88cc" fill-opacity="0.42" stroke="#8d88cc" stroke-opacity="0.42" stroke-width="0.7"/>
<circle cx="377.3" cy="189.2" r="2.2" fill="#8d88cc" fill-opacity="0.42" stroke="#8d88cc" stroke-opacity="0.42" stroke-width="0.7"/>
<circle cx="374.4" cy="193.9" r="2.2" fill="#8d88cc" fill-opacity="0.42" stroke="#8d88cc" stroke-opacity="0.42" stroke-width="0.7"/>
<circle cx="377.6" cy="197.0" r="2.2" fill="#8d88cc" fill-opacity="0.42" stroke="#8d88cc" stroke-opacity="0.42" stroke-width="0.7"/>
<circle cx="374.8" cy="200.1" r="2.2" fill="#8d88cc" fill-opacity="0.42" stroke="#8d88cc" stroke-opacity="0.42" stroke-width="0.7"/>
<circle cx="376.0" cy="203.2" r="2.2" fill="#8d88cc" fill-opacity="0.42" stroke="#8d88cc" stroke-opacity="0.42" stroke-width="0.7"/>
<circle cx="377.5" cy="204.8" r="2.2" fill="#8d88cc" fill-opacity="0.42" stroke="#8d88cc" stroke-opacity="0.42" stroke-width="0.7"/>
<circle cx="376.4" cy="206.3" r="2.2" fill="#8d88cc" fill-opacity="0.42" stroke="#8d88cc" stroke-opacity="0.42" stroke-width="0.7"/>
<circle cx="377.5" cy="207.8" r="2.2" fill="#8d88cc" fill-opacity="0.42" stroke="#8d88cc" stroke-opacity="0.42" stroke-width="0.7"/>
<circle cx="376.5" cy="208.6" r="2.2" fill="#8d88cc" fill-opacity="0.42" stroke="#8d88cc" stroke-opacity="0.42" stroke-width="0.7"/>
<circle cx="373.6" cy="209.4" r="2.2" fill="#8d88cc" fill-opacity="0.42" stroke="#8d88cc" stroke-opacity="0.42" stroke-width="0.7"/>
<circle cx="377.3" cy="210.2" r="2.2" fill="#8d88cc" fill-opacity="0.42" stroke="#8d88cc" stroke-opacity="0.42" stroke-width="0.7"/>
<circle cx="376.0" cy="210.9" r="2.2" fill="#8d88cc" fill-opacity="0.42" stroke="#8d88cc" stroke-opacity="0.42" stroke-width="0.7"/>
<circle cx="374.8" cy="211.7" r="2.2" fill="#8d88cc" fill-opacity="0.42" stroke="#8d88cc" stroke-opacity="0.42" stroke-width="0.7"/>
<circle cx="374.2" cy="212.5" r="2.2" fill="#8d88cc" fill-opacity="0.42" stroke="#8d88cc" stroke-opacity="0.42" stroke-width="0.7"/>
<circle cx="377.1" cy="210.9" r="2.2" fill="#8d88cc" fill-opacity="0.42" stroke="#8d88cc" stroke-opacity="0.42" stroke-width="0.7"/>
<circle cx="376.0" cy="209.4" r="2.2" fill="#8d88cc" fill-opacity="0.42" stroke="#8d88cc" stroke-opacity="0.42" stroke-width="0.7"/>
<circle cx="377.5" cy="207.8" r="2.2" fill="#8d88cc" fill-opacity="0.42" stroke="#8d88cc" stroke-opacity="0.42" stroke-width="0.7"/>
<circle cx="376.8" cy="206.3" r="2.2" fill="#8d88cc" fill-opacity="0.42" stroke="#8d88cc" stroke-opacity="0.42" stroke-width="0.7"/>
<line x1="413.8" y1="64.7" x2="413.8" y2="129.2" stroke="#222" stroke-width="0.85"/>
<line x1="413.8" y1="204.1" x2="413.8" y2="212.3" stroke="#222" stroke-width="0.85"/>
<rect x="404.3" y="129.2" width="19" height="74.9" fill="none" stroke="#7671b4" stroke-width="0.9"/>
<line x1="404.3" y1="176.8" x2="423.3" y2="176.8" stroke="#111" stroke-width="1.35"/>
<circle cx="415.7" cy="65.2" r="2.2" fill="#8d88cc" fill-opacity="0.42" stroke="#8d88cc" stroke-opacity="0.42" stroke-width="0.7"/>
<circle cx="415.8" cy="77.7" r="2.2" fill="#8d88cc" fill-opacity="0.42" stroke="#8d88cc" stroke-opacity="0.42" stroke-width="0.7"/>
<circle cx="415.5" cy="80.8" r="2.2" fill="#8d88cc" fill-opacity="0.42" stroke="#8d88cc" stroke-opacity="0.42" stroke-width="0.7"/>
<circle cx="412.0" cy="91.6" r="2.2" fill="#8d88cc" fill-opacity="0.42" stroke="#8d88cc" stroke-opacity="0.42" stroke-width="0.7"/>
<circle cx="414.2" cy="104.0" r="2.2" fill="#8d88cc" fill-opacity="0.42" stroke="#8d88cc" stroke-opacity="0.42" stroke-width="0.7"/>
<circle cx="413.5" cy="107.1" r="2.2" fill="#8d88cc" fill-opacity="0.42" stroke="#8d88cc" stroke-opacity="0.42" stroke-width="0.7"/>
<circle cx="413.9" cy="116.4" r="2.2" fill="#8d88cc" fill-opacity="0.42" stroke="#8d88cc" stroke-opacity="0.42" stroke-width="0.7"/>
<circle cx="412.2" cy="127.2" r="2.2" fill="#8d88cc" fill-opacity="0.42" stroke="#8d88cc" stroke-opacity="0.42" stroke-width="0.7"/>
<circle cx="412.4" cy="130.3" r="2.2" fill="#8d88cc" fill-opacity="0.42" stroke="#8d88cc" stroke-opacity="0.42" stroke-width="0.7"/>
<circle cx="413.6" cy="131.9" r="2.2" fill="#8d88cc" fill-opacity="0.42" stroke="#8d88cc" stroke-opacity="0.42" stroke-width="0.7"/>
<circle cx="412.6" cy="135.0" r="2.2" fill="#8d88cc" fill-opacity="0.42" stroke="#8d88cc" stroke-opacity="0.42" stroke-width="0.7"/>
<circle cx="413.6" cy="142.8" r="2.2" fill="#8d88cc" fill-opacity="0.42" stroke="#8d88cc" stroke-opacity="0.42" stroke-width="0.7"/>
<circle cx="411.7" cy="150.5" r="2.2" fill="#8d88cc" fill-opacity="0.42" stroke="#8d88cc" stroke-opacity="0.42" stroke-width="0.7"/>
<circle cx="412.0" cy="162.9" r="2.2" fill="#8d88cc" fill-opacity="0.42" stroke="#8d88cc" stroke-opacity="0.42" stroke-width="0.7"/>
<circle cx="414.7" cy="166.0" r="2.2" fill="#8d88cc" fill-opacity="0.42" stroke="#8d88cc" stroke-opacity="0.42" stroke-width="0.7"/>
<circle cx="413.5" cy="169.1" r="2.2" fill="#8d88cc" fill-opacity="0.42" stroke="#8d88cc" stroke-opacity="0.42" stroke-width="0.7"/>
<circle cx="413.9" cy="173.8" r="2.2" fill="#8d88cc" fill-opacity="0.42" stroke="#8d88cc" stroke-opacity="0.42" stroke-width="0.7"/>
<circle cx="414.8" cy="176.8" r="2.2" fill="#8d88cc" fill-opacity="0.42" stroke="#8d88cc" stroke-opacity="0.42" stroke-width="0.7"/>
<circle cx="413.2" cy="181.5" r="2.2" fill="#8d88cc" fill-opacity="0.42" stroke="#8d88cc" stroke-opacity="0.42" stroke-width="0.7"/>
<circle cx="411.9" cy="189.2" r="2.2" fill="#8d88cc" fill-opacity="0.42" stroke="#8d88cc" stroke-opacity="0.42" stroke-width="0.7"/>
<circle cx="415.0" cy="193.9" r="2.2" fill="#8d88cc" fill-opacity="0.42" stroke="#8d88cc" stroke-opacity="0.42" stroke-width="0.7"/>
<circle cx="414.2" cy="200.1" r="2.2" fill="#8d88cc" fill-opacity="0.42" stroke="#8d88cc" stroke-opacity="0.42" stroke-width="0.7"/>
<circle cx="414.5" cy="203.2" r="2.2" fill="#8d88cc" fill-opacity="0.42" stroke="#8d88cc" stroke-opacity="0.42" stroke-width="0.7"/>
<circle cx="414.3" cy="204.8" r="2.2" fill="#8d88cc" fill-opacity="0.42" stroke="#8d88cc" stroke-opacity="0.42" stroke-width="0.7"/>
<circle cx="415.9" cy="206.3" r="2.2" fill="#8d88cc" fill-opacity="0.42" stroke="#8d88cc" stroke-opacity="0.42" stroke-width="0.7"/>
<circle cx="413.2" cy="207.8" r="2.2" fill="#8d88cc" fill-opacity="0.42" stroke="#8d88cc" stroke-opacity="0.42" stroke-width="0.7"/>
<circle cx="414.9" cy="209.4" r="2.2" fill="#8d88cc" fill-opacity="0.42" stroke="#8d88cc" stroke-opacity="0.42" stroke-width="0.7"/>
<circle cx="413.2" cy="210.9" r="2.2" fill="#8d88cc" fill-opacity="0.42" stroke="#8d88cc" stroke-opacity="0.42" stroke-width="0.7"/>
<circle cx="414.1" cy="211.7" r="2.2" fill="#8d88cc" fill-opacity="0.42" stroke="#8d88cc" stroke-opacity="0.42" stroke-width="0.7"/>
<circle cx="414.5" cy="212.5" r="2.2" fill="#8d88cc" fill-opacity="0.42" stroke="#8d88cc" stroke-opacity="0.42" stroke-width="0.7"/>
<circle cx="413.0" cy="201.7" r="2.2" fill="#8d88cc" fill-opacity="0.42" stroke="#8d88cc" stroke-opacity="0.42" stroke-width="0.7"/>
<circle cx="412.0" cy="197.0" r="2.2" fill="#8d88cc" fill-opacity="0.42" stroke="#8d88cc" stroke-opacity="0.42" stroke-width="0.7"/>
<line x1="451.9" y1="59.5" x2="451.9" y2="85.5" stroke="#222" stroke-width="0.85"/>
<line x1="451.9" y1="163.4" x2="451.9" y2="212.3" stroke="#222" stroke-width="0.85"/>
<rect x="442.4" y="85.5" width="19" height="77.9" fill="none" stroke="#7671b4" stroke-width="0.9"/>
<line x1="442.4" y1="104" x2="461.4" y2="104" stroke="#111" stroke-width="1.35"/>
<circle cx="452.8" cy="60.6" r="2.2" fill="#8d88cc" fill-opacity="0.42" stroke="#8d88cc" stroke-opacity="0.42" stroke-width="0.7"/>
<circle cx="453.4" cy="65.2" r="2.2" fill="#8d88cc" fill-opacity="0.42" stroke="#8d88cc" stroke-opacity="0.42" stroke-width="0.7"/>
<circle cx="450.5" cy="73.0" r="2.2" fill="#8d88cc" fill-opacity="0.42" stroke="#8d88cc" stroke-opacity="0.42" stroke-width="0.7"/>
<circle cx="454.1" cy="76.1" r="2.2" fill="#8d88cc" fill-opacity="0.42" stroke="#8d88cc" stroke-opacity="0.42" stroke-width="0.7"/>
<circle cx="450.6" cy="80.8" r="2.2" fill="#8d88cc" fill-opacity="0.42" stroke="#8d88cc" stroke-opacity="0.42" stroke-width="0.7"/>
<circle cx="452.7" cy="82.3" r="2.2" fill="#8d88cc" fill-opacity="0.42" stroke="#8d88cc" stroke-opacity="0.42" stroke-width="0.7"/>
<circle cx="450.1" cy="85.4" r="2.2" fill="#8d88cc" fill-opacity="0.42" stroke="#8d88cc" stroke-opacity="0.42" stroke-width="0.7"/>
<circle cx="453.0" cy="88.5" r="2.2" fill="#8d88cc" fill-opacity="0.42" stroke="#8d88cc" stroke-opacity="0.42" stroke-width="0.7"/>
<circle cx="450.4" cy="91.6" r="2.2" fill="#8d88cc" fill-opacity="0.42" stroke="#8d88cc" stroke-opacity="0.42" stroke-width="0.7"/>
<circle cx="452.8" cy="96.2" r="2.2" fill="#8d88cc" fill-opacity="0.42" stroke="#8d88cc" stroke-opacity="0.42" stroke-width="0.7"/>
<circle cx="452.9" cy="99.4" r="2.2" fill="#8d88cc" fill-opacity="0.42" stroke="#8d88cc" stroke-opacity="0.42" stroke-width="0.7"/>
<circle cx="453.1" cy="104.0" r="2.2" fill="#8d88cc" fill-opacity="0.42" stroke="#8d88cc" stroke-opacity="0.42" stroke-width="0.7"/>
<circle cx="451.6" cy="107.1" r="2.2" fill="#8d88cc" fill-opacity="0.42" stroke="#8d88cc" stroke-opacity="0.42" stroke-width="0.7"/>
<circle cx="453.5" cy="116.4" r="2.2" fill="#8d88cc" fill-opacity="0.42" stroke="#8d88cc" stroke-opacity="0.42" stroke-width="0.7"/>
<circle cx="454.0" cy="127.2" r="2.2" fill="#8d88cc" fill-opacity="0.42" stroke="#8d88cc" stroke-opacity="0.42" stroke-width="0.7"/>
<circle cx="450.2" cy="135.0" r="2.2" fill="#8d88cc" fill-opacity="0.42" stroke="#8d88cc" stroke-opacity="0.42" stroke-width="0.7"/>
<circle cx="452.0" cy="138.1" r="2.2" fill="#8d88cc" fill-opacity="0.42" stroke="#8d88cc" stroke-opacity="0.42" stroke-width="0.7"/>
<circle cx="453.9" cy="142.8" r="2.2" fill="#8d88cc" fill-opacity="0.42" stroke="#8d88cc" stroke-opacity="0.42" stroke-width="0.7"/>
<circle cx="453.0" cy="147.4" r="2.2" fill="#8d88cc" fill-opacity="0.42" stroke="#8d88cc" stroke-opacity="0.42" stroke-width="0.7"/>
<circle cx="451.7" cy="150.5" r="2.2" fill="#8d88cc" fill-opacity="0.42" stroke="#8d88cc" stroke-opacity="0.42" stroke-width="0.7"/>
<circle cx="451.0" cy="156.7" r="2.2" fill="#8d88cc" fill-opacity="0.42" stroke="#8d88cc" stroke-opacity="0.42" stroke-width="0.7"/>
<circle cx="453.9" cy="166.0" r="2.2" fill="#8d88cc" fill-opacity="0.42" stroke="#8d88cc" stroke-opacity="0.42" stroke-width="0.7"/>
<circle cx="450.1" cy="169.1" r="2.2" fill="#8d88cc" fill-opacity="0.42" stroke="#8d88cc" stroke-opacity="0.42" stroke-width="0.7"/>
<circle cx="453.0" cy="173.8" r="2.2" fill="#8d88cc" fill-opacity="0.42" stroke="#8d88cc" stroke-opacity="0.42" stroke-width="0.7"/>
<circle cx="453.4" cy="181.5" r="2.2" fill="#8d88cc" fill-opacity="0.42" stroke="#8d88cc" stroke-opacity="0.42" stroke-width="0.7"/>
<circle cx="450.4" cy="189.2" r="2.2" fill="#8d88cc" fill-opacity="0.42" stroke="#8d88cc" stroke-opacity="0.42" stroke-width="0.7"/>
<circle cx="451.1" cy="197.0" r="2.2" fill="#8d88cc" fill-opacity="0.42" stroke="#8d88cc" stroke-opacity="0.42" stroke-width="0.7"/>
<circle cx="451.0" cy="204.8" r="2.2" fill="#8d88cc" fill-opacity="0.42" stroke="#8d88cc" stroke-opacity="0.42" stroke-width="0.7"/>
<circle cx="452.1" cy="209.4" r="2.2" fill="#8d88cc" fill-opacity="0.42" stroke="#8d88cc" stroke-opacity="0.42" stroke-width="0.7"/>
<circle cx="451.3" cy="210.9" r="2.2" fill="#8d88cc" fill-opacity="0.42" stroke="#8d88cc" stroke-opacity="0.42" stroke-width="0.7"/>
<circle cx="453.6" cy="212.5" r="2.2" fill="#8d88cc" fill-opacity="0.42" stroke="#8d88cc" stroke-opacity="0.42" stroke-width="0.7"/>
<line x1="490.1" y1="59" x2="490.1" y2="66.3" stroke="#222" stroke-width="0.85"/>
<line x1="490.1" y1="122.8" x2="490.1" y2="199" stroke="#222" stroke-width="0.85"/>
<rect x="480.1" y="66.3" width="20" height="56.5" fill="none" stroke="#7671b4" stroke-width="0.9"/>
<line x1="480.1" y1="75.4" x2="500.1" y2="75.4" stroke="#111" stroke-width="1.35"/>
<circle cx="489.6" cy="59.1" r="2.2" fill="#8d88cc" fill-opacity="0.42" stroke="#8d88cc" stroke-opacity="0.42" stroke-width="0.7"/>
<circle cx="492.0" cy="60.6" r="2.2" fill="#8d88cc" fill-opacity="0.42" stroke="#8d88cc" stroke-opacity="0.42" stroke-width="0.7"/>
<circle cx="491.6" cy="62.2" r="2.2" fill="#8d88cc" fill-opacity="0.42" stroke="#8d88cc" stroke-opacity="0.42" stroke-width="0.7"/>
<circle cx="488.8" cy="63.7" r="2.2" fill="#8d88cc" fill-opacity="0.42" stroke="#8d88cc" stroke-opacity="0.42" stroke-width="0.7"/>
<circle cx="491.7" cy="65.2" r="2.2" fill="#8d88cc" fill-opacity="0.42" stroke="#8d88cc" stroke-opacity="0.42" stroke-width="0.7"/>
<circle cx="490.7" cy="66.8" r="2.2" fill="#8d88cc" fill-opacity="0.42" stroke="#8d88cc" stroke-opacity="0.42" stroke-width="0.7"/>
<circle cx="488.1" cy="68.3" r="2.2" fill="#8d88cc" fill-opacity="0.42" stroke="#8d88cc" stroke-opacity="0.42" stroke-width="0.7"/>
<circle cx="492.1" cy="69.9" r="2.2" fill="#8d88cc" fill-opacity="0.42" stroke="#8d88cc" stroke-opacity="0.42" stroke-width="0.7"/>
<circle cx="489.0" cy="73.0" r="2.2" fill="#8d88cc" fill-opacity="0.42" stroke="#8d88cc" stroke-opacity="0.42" stroke-width="0.7"/>
<circle cx="489.2" cy="76.1" r="2.2" fill="#8d88cc" fill-opacity="0.42" stroke="#8d88cc" stroke-opacity="0.42" stroke-width="0.7"/>
<circle cx="489.8" cy="80.8" r="2.2" fill="#8d88cc" fill-opacity="0.42" stroke="#8d88cc" stroke-opacity="0.42" stroke-width="0.7"/>
<circle cx="490.5" cy="85.4" r="2.2" fill="#8d88cc" fill-opacity="0.42" stroke="#8d88cc" stroke-opacity="0.42" stroke-width="0.7"/>
<circle cx="488.4" cy="88.5" r="2.2" fill="#8d88cc" fill-opacity="0.42" stroke="#8d88cc" stroke-opacity="0.42" stroke-width="0.7"/>
<circle cx="490.9" cy="91.6" r="2.2" fill="#8d88cc" fill-opacity="0.42" stroke="#8d88cc" stroke-opacity="0.42" stroke-width="0.7"/>
<circle cx="491.6" cy="96.2" r="2.2" fill="#8d88cc" fill-opacity="0.42" stroke="#8d88cc" stroke-opacity="0.42" stroke-width="0.7"/>
<circle cx="490.2" cy="100.9" r="2.2" fill="#8d88cc" fill-opacity="0.42" stroke="#8d88cc" stroke-opacity="0.42" stroke-width="0.7"/>
<circle cx="491.4" cy="104.0" r="2.2" fill="#8d88cc" fill-opacity="0.42" stroke="#8d88cc" stroke-opacity="0.42" stroke-width="0.7"/>
<circle cx="490.6" cy="107.1" r="2.2" fill="#8d88cc" fill-opacity="0.42" stroke="#8d88cc" stroke-opacity="0.42" stroke-width="0.7"/>
<circle cx="491.5" cy="111.8" r="2.2" fill="#8d88cc" fill-opacity="0.42" stroke="#8d88cc" stroke-opacity="0.42" stroke-width="0.7"/>
<circle cx="488.7" cy="119.5" r="2.2" fill="#8d88cc" fill-opacity="0.42" stroke="#8d88cc" stroke-opacity="0.42" stroke-width="0.7"/>
<circle cx="489.5" cy="122.6" r="2.2" fill="#8d88cc" fill-opacity="0.42" stroke="#8d88cc" stroke-opacity="0.42" stroke-width="0.7"/>
<circle cx="490.0" cy="150.5" r="2.2" fill="#8d88cc" fill-opacity="0.42" stroke="#8d88cc" stroke-opacity="0.42" stroke-width="0.7"/>
<circle cx="488.4" cy="166.0" r="2.2" fill="#8d88cc" fill-opacity="0.42" stroke="#8d88cc" stroke-opacity="0.42" stroke-width="0.7"/>
<circle cx="492.2" cy="181.5" r="2.2" fill="#8d88cc" fill-opacity="0.42" stroke="#8d88cc" stroke-opacity="0.42" stroke-width="0.7"/>
<circle cx="490.7" cy="189.2" r="2.2" fill="#8d88cc" fill-opacity="0.42" stroke="#8d88cc" stroke-opacity="0.42" stroke-width="0.7"/>
<circle cx="488.3" cy="204.8" r="2.2" fill="#8d88cc" fill-opacity="0.42" stroke="#8d88cc" stroke-opacity="0.42" stroke-width="0.7"/>
<circle cx="490.5" cy="209.4" r="2.2" fill="#8d88cc" fill-opacity="0.42" stroke="#8d88cc" stroke-opacity="0.42" stroke-width="0.7"/>
<circle cx="489.7" cy="63.7" r="2.2" fill="#8d88cc" fill-opacity="0.42" stroke="#8d88cc" stroke-opacity="0.42" stroke-width="0.7"/>
<circle cx="488.7" cy="71.4" r="2.2" fill="#8d88cc" fill-opacity="0.42" stroke="#8d88cc" stroke-opacity="0.42" stroke-width="0.7"/>
<circle cx="488.6" cy="77.7" r="2.2" fill="#8d88cc" fill-opacity="0.42" stroke="#8d88cc" stroke-opacity="0.42" stroke-width="0.7"/>
<text x="97.4" y="268.2" font-size="9.2" text-anchor="middle" fill="#1a1a1a" font-weight="normal" dominant-baseline="central" stroke="#1a1a1a" stroke-width="0.05">Donor</text>
<rect x="53" y="276.80" width="2" height="107.84" fill="#2b1852"/>
<rect x="53" y="384.64" width="2" height="8.79" fill="#2a4b8a"/>
<rect x="53" y="393.43" width="2" height="29.44" fill="#3d6ec0"/>
<rect x="53" y="422.87" width="2" height="4.53" fill="#e3e1f1"/>
<rect x="55" y="276.80" width="2" height="56.75" fill="#2b1852"/>
<rect x="55" y="333.55" width="2" height="17.50" fill="#2a4b8a"/>
<rect x="55" y="351.04" width="2" height="55.71" fill="#3d6ec0"/>
<rect x="55" y="406.75" width="2" height="1.20" fill="#8b8bcc"/>
<rect x="55" y="407.95" width="2" height="0.66" fill="#b9b7e2"/>
<rect x="55" y="408.62" width="2" height="18.78" fill="#e3e1f1"/>
<rect x="57" y="276.80" width="2" height="76.83" fill="#2b1852"/>
<rect x="57" y="353.63" width="2" height="11.78" fill="#2a4b8a"/>
<rect x="57" y="365.41" width="2" height="43.21" fill="#3d6ec0"/>
<rect x="57" y="408.61" width="2" height="5.83" fill="#8b8bcc"/>
<rect x="57" y="414.44" width="2" height="9.08" fill="#b9b7e2"/>
<rect x="57" y="423.52" width="2" height="3.88" fill="#e3e1f1"/>
<rect x="59" y="276.80" width="2" height="104.27" fill="#2b1852"/>
<rect x="59" y="381.07" width="2" height="10.23" fill="#2a4b8a"/>
<rect x="59" y="391.30" width="2" height="29.26" fill="#3d6ec0"/>
<rect x="59" y="420.55" width="2" height="6.85" fill="#e3e1f1"/>
<rect x="61" y="276.80" width="2" height="136.44" fill="#2b1852"/>
<rect x="61" y="413.24" width="2" height="1.76" fill="#2a4b8a"/>
<rect x="61" y="415.00" width="2" height="9.06" fill="#3d6ec0"/>
<rect x="61" y="424.06" width="2" height="3.34" fill="#e3e1f1"/>
<rect x="63" y="276.80" width="2" height="110.43" fill="#2b1852"/>
<rect x="63" y="387.23" width="2" height="10.91" fill="#2a4b8a"/>
<rect x="63" y="398.13" width="2" height="19.84" fill="#3d6ec0"/>
<rect x="63" y="417.98" width="2" height="1.03" fill="#8b8bcc"/>
<rect x="63" y="419.00" width="2" height="2.20" fill="#b9b7e2"/>
<rect x="63" y="421.20" width="2" height="6.20" fill="#e3e1f1"/>
<rect x="65" y="276.80" width="2" height="66.37" fill="#2b1852"/>
<rect x="65" y="343.17" width="2" height="21.52" fill="#2a4b8a"/>
<rect x="65" y="364.69" width="2" height="51.46" fill="#3d6ec0"/>
<rect x="65" y="416.15" width="2" height="3.35" fill="#8b8bcc"/>
<rect x="65" y="419.50" width="2" height="6.42" fill="#b9b7e2"/>
<rect x="65" y="425.92" width="2" height="1.48" fill="#e3e1f1"/>
<rect x="67" y="276.80" width="2" height="36.80" fill="#2b1852"/>
<rect x="67" y="313.60" width="2" height="27.49" fill="#2a4b8a"/>
<rect x="67" y="341.09" width="2" height="39.70" fill="#3d6ec0"/>
<rect x="67" y="380.79" width="2" height="0.18" fill="#8b8bcc"/>
<rect x="67" y="380.96" width="2" height="0.30" fill="#b9b7e2"/>
<rect x="67" y="381.26" width="2" height="46.14" fill="#e3e1f1"/>
<rect x="69" y="276.80" width="2" height="122.64" fill="#2b1852"/>
<rect x="69" y="399.44" width="2" height="6.25" fill="#2a4b8a"/>
<rect x="69" y="405.69" width="2" height="17.46" fill="#3d6ec0"/>
<rect x="69" y="423.16" width="2" height="4.24" fill="#e3e1f1"/>
<rect x="71" y="276.80" width="2" height="133.12" fill="#2b1852"/>
<rect x="71" y="409.92" width="2" height="4.48" fill="#2a4b8a"/>
<rect x="71" y="414.40" width="2" height="8.62" fill="#3d6ec0"/>
<rect x="71" y="423.02" width="2" height="4.38" fill="#e3e1f1"/>
<rect x="73" y="276.80" width="2" height="143.48" fill="#3d6ec0"/>
<rect x="73" y="420.28" width="2" height="3.18" fill="#8b8bcc"/>
<rect x="73" y="423.47" width="2" height="3.54" fill="#b9b7e2"/>
<rect x="73" y="427.01" width="2" height="0.39" fill="#e3e1f1"/>
<rect x="75" y="276.80" width="2" height="107.72" fill="#2b1852"/>
<rect x="75" y="384.52" width="2" height="9.72" fill="#2a4b8a"/>
<rect x="75" y="394.24" width="2" height="20.00" fill="#3d6ec0"/>
<rect x="75" y="414.23" width="2" height="7.37" fill="#8b8bcc"/>
<rect x="75" y="421.60" width="2" height="4.47" fill="#b9b7e2"/>
<rect x="75" y="426.07" width="2" height="1.33" fill="#e3e1f1"/>
<rect x="77" y="276.80" width="2" height="133.37" fill="#2b1852"/>
<rect x="77" y="410.17" width="2" height="3.69" fill="#2a4b8a"/>
<rect x="77" y="413.86" width="2" height="9.06" fill="#3d6ec0"/>
<rect x="77" y="423.07" width="2" height="4.33" fill="#e3e1f1"/>
<rect x="79" y="276.80" width="2" height="119.95" fill="#2b1852"/>
<rect x="79" y="396.75" width="2" height="6.01" fill="#2a4b8a"/>
<rect x="79" y="402.77" width="2" height="17.02" fill="#3d6ec0"/>
<rect x="79" y="419.93" width="2" height="7.47" fill="#e3e1f1"/>
<rect x="81" y="276.80" width="2" height="107.31" fill="#2b1852"/>
<rect x="81" y="384.11" width="2" height="3.26" fill="#2a4b8a"/>
<rect x="81" y="387.37" width="2" height="15.39" fill="#3d6ec0"/>
<rect x="81" y="402.76" width="2" height="0.74" fill="#8b8bcc"/>
<rect x="81" y="403.50" width="2" height="0.40" fill="#b9b7e2"/>
<rect x="81" y="403.90" width="2" height="23.50" fill="#e3e1f1"/>
<rect x="83" y="276.80" width="2" height="67.41" fill="#2b1852"/>
<rect x="83" y="344.21" width="2" height="22.15" fill="#2a4b8a"/>
<rect x="83" y="366.36" width="2" height="35.08" fill="#3d6ec0"/>
<rect x="83" y="401.44" width="2" height="0.65" fill="#8b8bcc"/>
<rect x="83" y="402.09" width="2" height="0.55" fill="#b9b7e2"/>
<rect x="83" y="402.64" width="2" height="24.76" fill="#e3e1f1"/>
<rect x="85" y="276.80" width="2" height="68.09" fill="#2b1852"/>
<rect x="85" y="344.89" width="2" height="16.67" fill="#2a4b8a"/>
<rect x="85" y="361.56" width="2" height="46.14" fill="#3d6ec0"/>
<rect x="85" y="407.70" width="2" height="8.72" fill="#8b8bcc"/>
<rect x="85" y="416.42" width="2" height="8.77" fill="#b9b7e2"/>
<rect x="85" y="425.19" width="2" height="2.21" fill="#e3e1f1"/>
<rect x="87" y="276.80" width="2" height="137.62" fill="#2b1852"/>
<rect x="87" y="414.42" width="2" height="1.37" fill="#2a4b8a"/>
<rect x="87" y="415.79" width="2" height="8.60" fill="#3d6ec0"/>
<rect x="87" y="424.39" width="2" height="0.34" fill="#8b8bcc"/>
<rect x="87" y="424.73" width="2" height="0.35" fill="#b9b7e2"/>
<rect x="87" y="425.07" width="2" height="2.33" fill="#e3e1f1"/>
<rect x="89" y="276.80" width="2" height="111.79" fill="#2b1852"/>
<rect x="89" y="388.59" width="2" height="9.23" fill="#2a4b8a"/>
<rect x="89" y="397.82" width="2" height="24.32" fill="#3d6ec0"/>
<rect x="89" y="422.15" width="2" height="2.40" fill="#8b8bcc"/>
<rect x="89" y="424.55" width="2" height="1.43" fill="#b9b7e2"/>
<rect x="89" y="425.98" width="2" height="1.42" fill="#e3e1f1"/>
<rect x="91" y="276.80" width="2" height="103.64" fill="#2b1852"/>
<rect x="91" y="380.44" width="2" height="12.96" fill="#2a4b8a"/>
<rect x="91" y="393.40" width="2" height="25.34" fill="#3d6ec0"/>
<rect x="91" y="418.74" width="2" height="0.94" fill="#8b8bcc"/>
<rect x="91" y="419.68" width="2" height="1.20" fill="#b9b7e2"/>
<rect x="91" y="420.87" width="2" height="6.53" fill="#e3e1f1"/>
<rect x="93" y="276.80" width="2" height="43.27" fill="#2b1852"/>
<rect x="93" y="320.07" width="2" height="26.23" fill="#2a4b8a"/>
<rect x="93" y="346.30" width="2" height="69.85" fill="#3d6ec0"/>
<rect x="93" y="416.16" width="2" height="3.69" fill="#8b8bcc"/>
<rect x="93" y="419.85" width="2" height="4.91" fill="#b9b7e2"/>
<rect x="93" y="424.76" width="2" height="2.64" fill="#e3e1f1"/>
<rect x="95" y="276.80" width="2" height="99.40" fill="#2b1852"/>
<rect x="95" y="376.20" width="2" height="14.25" fill="#2a4b8a"/>
<rect x="95" y="390.45" width="2" height="24.49" fill="#3d6ec0"/>
<rect x="95" y="414.94" width="2" height="4.66" fill="#8b8bcc"/>
<rect x="95" y="419.60" width="2" height="3.22" fill="#b9b7e2"/>
<rect x="95" y="422.82" width="2" height="4.58" fill="#e3e1f1"/>
<rect x="97" y="276.80" width="2" height="72.78" fill="#2b1852"/>
<rect x="97" y="349.58" width="2" height="22.24" fill="#2a4b8a"/>
<rect x="97" y="371.82" width="2" height="45.36" fill="#3d6ec0"/>
<rect x="97" y="417.18" width="2" height="0.66" fill="#8b8bcc"/>
<rect x="97" y="417.84" width="2" height="0.87" fill="#b9b7e2"/>
<rect x="97" y="418.70" width="2" height="8.70" fill="#e3e1f1"/>
<rect x="99" y="276.80" width="2" height="110.45" fill="#2b1852"/>
<rect x="99" y="387.25" width="2" height="6.94" fill="#2a4b8a"/>
<rect x="99" y="394.18" width="2" height="30.20" fill="#3d6ec0"/>
<rect x="99" y="424.39" width="2" height="1.52" fill="#8b8bcc"/>
<rect x="99" y="425.91" width="2" height="0.72" fill="#b9b7e2"/>
<rect x="99" y="426.62" width="2" height="0.78" fill="#e3e1f1"/>
<rect x="101" y="276.80" width="2" height="139.31" fill="#3d6ec0"/>
<rect x="101" y="416.11" width="2" height="5.09" fill="#8b8bcc"/>
<rect x="101" y="421.20" width="2" height="4.13" fill="#b9b7e2"/>
<rect x="101" y="425.32" width="2" height="2.08" fill="#e3e1f1"/>
<rect x="103" y="276.80" width="2" height="71.29" fill="#2b1852"/>
<rect x="103" y="348.09" width="2" height="9.26" fill="#2a4b8a"/>
<rect x="103" y="357.35" width="2" height="21.84" fill="#3d6ec0"/>
<rect x="103" y="379.19" width="2" height="2.99" fill="#8b8bcc"/>
<rect x="103" y="382.18" width="2" height="2.42" fill="#b9b7e2"/>
<rect x="103" y="384.60" width="2" height="42.80" fill="#e3e1f1"/>
<rect x="105" y="276.80" width="2" height="75.54" fill="#2b1852"/>
<rect x="105" y="352.34" width="2" height="6.84" fill="#2a4b8a"/>
<rect x="105" y="359.17" width="2" height="23.46" fill="#3d6ec0"/>
<rect x="105" y="382.64" width="2" height="1.22" fill="#8b8bcc"/>
<rect x="105" y="383.86" width="2" height="1.68" fill="#b9b7e2"/>
<rect x="105" y="385.54" width="2" height="41.86" fill="#e3e1f1"/>
<rect x="107" y="276.80" width="2" height="130.44" fill="#2b1852"/>
<rect x="107" y="407.24" width="2" height="3.54" fill="#2a4b8a"/>
<rect x="107" y="410.78" width="2" height="13.61" fill="#3d6ec0"/>
<rect x="107" y="424.39" width="2" height="3.01" fill="#e3e1f1"/>
<rect x="109" y="276.80" width="2" height="62.74" fill="#2b1852"/>
<rect x="109" y="339.54" width="2" height="12.35" fill="#2a4b8a"/>
<rect x="109" y="351.90" width="2" height="28.72" fill="#3d6ec0"/>
<rect x="109" y="380.62" width="2" height="46.78" fill="#e3e1f1"/>
<rect x="111" y="276.80" width="2" height="63.02" fill="#2b1852"/>
<rect x="111" y="339.82" width="2" height="31.16" fill="#2a4b8a"/>
<rect x="111" y="370.98" width="2" height="48.01" fill="#3d6ec0"/>
<rect x="111" y="418.99" width="2" height="3.12" fill="#8b8bcc"/>
<rect x="111" y="422.11" width="2" height="4.31" fill="#b9b7e2"/>
<rect x="111" y="426.42" width="2" height="0.98" fill="#e3e1f1"/>
<rect x="113" y="276.80" width="2" height="80.55" fill="#2b1852"/>
<rect x="113" y="357.35" width="2" height="6.91" fill="#2a4b8a"/>
<rect x="113" y="364.25" width="2" height="26.49" fill="#3d6ec0"/>
<rect x="113" y="390.75" width="2" height="36.65" fill="#e3e1f1"/>
<rect x="115" y="276.80" width="2" height="65.41" fill="#2b1852"/>
<rect x="115" y="342.21" width="2" height="16.80" fill="#2a4b8a"/>
<rect x="115" y="359.01" width="2" height="35.47" fill="#3d6ec0"/>
<rect x="115" y="394.48" width="2" height="2.37" fill="#8b8bcc"/>
<rect x="115" y="396.85" width="2" height="3.49" fill="#b9b7e2"/>
<rect x="115" y="400.34" width="2" height="27.06" fill="#e3e1f1"/>
<rect x="117" y="276.80" width="2" height="84.65" fill="#2b1852"/>
<rect x="117" y="361.45" width="2" height="12.10" fill="#2a4b8a"/>
<rect x="117" y="373.55" width="2" height="28.38" fill="#3d6ec0"/>
<rect x="117" y="401.93" width="2" height="7.89" fill="#8b8bcc"/>
<rect x="117" y="409.82" width="2" height="10.47" fill="#b9b7e2"/>
<rect x="117" y="420.28" width="2" height="7.12" fill="#e3e1f1"/>
<rect x="119" y="276.80" width="2" height="121.53" fill="#3d6ec0"/>
<rect x="119" y="398.33" width="2" height="29.07" fill="#e3e1f1"/>
<rect x="121" y="276.80" width="2" height="79.28" fill="#2b1852"/>
<rect x="121" y="356.08" width="2" height="12.15" fill="#2a4b8a"/>
<rect x="121" y="368.23" width="2" height="36.76" fill="#3d6ec0"/>
<rect x="121" y="404.99" width="2" height="6.38" fill="#8b8bcc"/>
<rect x="121" y="411.37" width="2" height="9.09" fill="#b9b7e2"/>
<rect x="121" y="420.47" width="2" height="6.93" fill="#e3e1f1"/>
<rect x="123" y="276.80" width="2" height="74.82" fill="#2b1852"/>
<rect x="123" y="351.62" width="2" height="21.58" fill="#2a4b8a"/>
<rect x="123" y="373.21" width="2" height="51.18" fill="#3d6ec0"/>
<rect x="123" y="424.39" width="2" height="3.01" fill="#e3e1f1"/>
<rect x="125" y="276.80" width="2" height="88.80" fill="#2b1852"/>
<rect x="125" y="365.60" width="2" height="15.82" fill="#2a4b8a"/>
<rect x="125" y="381.42" width="2" height="40.87" fill="#3d6ec0"/>
<rect x="125" y="422.29" width="2" height="5.11" fill="#e3e1f1"/>
<rect x="127" y="276.80" width="2" height="95.03" fill="#2b1852"/>
<rect x="127" y="371.83" width="2" height="4.17" fill="#2a4b8a"/>
<rect x="127" y="375.99" width="2" height="9.34" fill="#3d6ec0"/>
<rect x="127" y="385.34" width="2" height="0.22" fill="#8b8bcc"/>
<rect x="127" y="385.56" width="2" height="0.27" fill="#b9b7e2"/>
<rect x="127" y="385.83" width="2" height="41.57" fill="#e3e1f1"/>
<rect x="129" y="276.80" width="2" height="141.24" fill="#3d6ec0"/>
<rect x="129" y="418.04" width="2" height="0.80" fill="#8b8bcc"/>
<rect x="129" y="418.85" width="2" height="1.53" fill="#b9b7e2"/>
<rect x="129" y="420.38" width="2" height="7.02" fill="#e3e1f1"/>
<rect x="131" y="276.80" width="2" height="88.67" fill="#2b1852"/>
<rect x="131" y="365.47" width="2" height="10.07" fill="#2a4b8a"/>
<rect x="131" y="375.54" width="2" height="15.60" fill="#3d6ec0"/>
<rect x="131" y="391.14" width="2" height="36.26" fill="#e3e1f1"/>
<rect x="133" y="276.80" width="2" height="89.18" fill="#2b1852"/>
<rect x="133" y="365.98" width="2" height="10.37" fill="#2a4b8a"/>
<rect x="133" y="376.35" width="2" height="42.06" fill="#3d6ec0"/>
<rect x="133" y="418.41" width="2" height="2.52" fill="#8b8bcc"/>
<rect x="133" y="420.93" width="2" height="2.41" fill="#b9b7e2"/>
<rect x="133" y="423.34" width="2" height="4.06" fill="#e3e1f1"/>
<rect x="135" y="276.80" width="2" height="127.50" fill="#2b1852"/>
<rect x="135" y="404.30" width="2" height="6.80" fill="#2a4b8a"/>
<rect x="135" y="411.09" width="2" height="13.29" fill="#3d6ec0"/>
<rect x="135" y="424.39" width="2" height="0.15" fill="#8b8bcc"/>
<rect x="135" y="424.54" width="2" height="0.31" fill="#b9b7e2"/>
<rect x="135" y="424.85" width="2" height="2.55" fill="#e3e1f1"/>
<rect x="137" y="276.80" width="2" height="42.99" fill="#2b1852"/>
<rect x="137" y="319.79" width="2" height="31.82" fill="#2a4b8a"/>
<rect x="137" y="351.61" width="2" height="45.16" fill="#3d6ec0"/>
<rect x="137" y="396.77" width="2" height="30.63" fill="#e3e1f1"/>
<rect x="139" y="276.80" width="2" height="40.90" fill="#2b1852"/>
<rect x="139" y="317.70" width="2" height="38.05" fill="#2a4b8a"/>
<rect x="139" y="355.75" width="2" height="63.41" fill="#3d6ec0"/>
<rect x="139" y="419.17" width="2" height="3.15" fill="#8b8bcc"/>
<rect x="139" y="422.31" width="2" height="2.07" fill="#b9b7e2"/>
<rect x="139" y="424.38" width="2" height="3.02" fill="#e3e1f1"/>
<text x="190.3" y="268.2" font-size="9.2" text-anchor="middle" fill="#1a1a1a" font-weight="normal" dominant-baseline="central" stroke="#1a1a1a" stroke-width="0.05">Month 3</text>
<rect x="146" y="276.80" width="2" height="1.08" fill="#2b1852"/>
<rect x="146" y="277.88" width="2" height="1.44" fill="#2a4b8a"/>
<rect x="146" y="279.33" width="2" height="27.63" fill="#3d6ec0"/>
<rect x="146" y="306.96" width="2" height="38.43" fill="#8b8bcc"/>
<rect x="146" y="345.39" width="2" height="25.03" fill="#b9b7e2"/>
<rect x="146" y="370.42" width="2" height="56.98" fill="#e3e1f1"/>
<rect x="148" y="276.80" width="2" height="1.41" fill="#2b1852"/>
<rect x="148" y="278.21" width="2" height="36.24" fill="#2a4b8a"/>
<rect x="148" y="314.45" width="2" height="102.58" fill="#3d6ec0"/>
<rect x="148" y="417.03" width="2" height="3.27" fill="#8b8bcc"/>
<rect x="148" y="420.30" width="2" height="7.10" fill="#b9b7e2"/>
<rect x="150" y="276.80" width="2" height="13.90" fill="#2b1852"/>
<rect x="150" y="290.70" width="2" height="30.71" fill="#2a4b8a"/>
<rect x="150" y="321.41" width="2" height="101.16" fill="#3d6ec0"/>
<rect x="150" y="422.56" width="2" height="4.84" fill="#e3e1f1"/>
<rect x="152" y="276.80" width="2" height="0.98" fill="#2b1852"/>
<rect x="152" y="277.78" width="2" height="1.14" fill="#2a4b8a"/>
<rect x="152" y="278.92" width="2" height="137.29" fill="#3d6ec0"/>
<rect x="152" y="416.21" width="2" height="4.17" fill="#8b8bcc"/>
<rect x="152" y="420.38" width="2" height="7.02" fill="#b9b7e2"/>
<rect x="154" y="276.80" width="2" height="7.14" fill="#2b1852"/>
<rect x="154" y="283.94" width="2" height="9.05" fill="#2a4b8a"/>
<rect x="154" y="292.99" width="2" height="8.09" fill="#3d6ec0"/>
<rect x="154" y="301.08" width="2" height="12.35" fill="#8b8bcc"/>
<rect x="154" y="313.43" width="2" height="20.42" fill="#b9b7e2"/>
<rect x="154" y="333.85" width="2" height="93.55" fill="#e3e1f1"/>
<rect x="156" y="276.80" width="2" height="1.53" fill="#2b1852"/>
<rect x="156" y="278.36" width="2" height="71.07" fill="#3d6ec0"/>
<rect x="156" y="349.43" width="2" height="19.85" fill="#8b8bcc"/>
<rect x="156" y="369.28" width="2" height="14.00" fill="#b9b7e2"/>
<rect x="156" y="383.28" width="2" height="44.12" fill="#e3e1f1"/>
<rect x="158" y="276.80" width="2" height="1.76" fill="#2b1852"/>
<rect x="158" y="278.56" width="2" height="0.29" fill="#2a4b8a"/>
<rect x="158" y="278.86" width="2" height="40.47" fill="#3d6ec0"/>
<rect x="158" y="319.33" width="2" height="34.71" fill="#8b8bcc"/>
<rect x="158" y="354.04" width="2" height="15.56" fill="#b9b7e2"/>
<rect x="158" y="369.59" width="2" height="57.81" fill="#e3e1f1"/>
<rect x="160" y="276.80" width="2" height="1.58" fill="#2b1852"/>
<rect x="160" y="278.38" width="2" height="0.57" fill="#2a4b8a"/>
<rect x="160" y="278.95" width="2" height="53.14" fill="#3d6ec0"/>
<rect x="160" y="332.09" width="2" height="31.68" fill="#8b8bcc"/>
<rect x="160" y="363.77" width="2" height="15.95" fill="#b9b7e2"/>
<rect x="160" y="379.72" width="2" height="47.68" fill="#e3e1f1"/>
<rect x="162" y="276.80" width="2" height="1.15" fill="#2b1852"/>
<rect x="162" y="277.95" width="2" height="0.52" fill="#2a4b8a"/>
<rect x="162" y="278.47" width="2" height="137.38" fill="#3d6ec0"/>
<rect x="162" y="415.84" width="2" height="7.60" fill="#8b8bcc"/>
<rect x="162" y="423.44" width="2" height="3.96" fill="#b9b7e2"/>
<rect x="164" y="276.80" width="2" height="0.61" fill="#2b1852"/>
<rect x="164" y="277.41" width="2" height="1.28" fill="#2a4b8a"/>
<rect x="164" y="278.68" width="2" height="17.04" fill="#3d6ec0"/>
<rect x="164" y="295.73" width="2" height="15.44" fill="#8b8bcc"/>
<rect x="164" y="311.17" width="2" height="14.58" fill="#b9b7e2"/>
<rect x="164" y="325.76" width="2" height="101.64" fill="#e3e1f1"/>
<rect x="166" y="276.80" width="2" height="5.98" fill="#2b1852"/>
<rect x="166" y="282.78" width="2" height="129.56" fill="#2a4b8a"/>
<rect x="166" y="412.34" width="2" height="5.10" fill="#3d6ec0"/>
<rect x="166" y="417.44" width="2" height="6.40" fill="#8b8bcc"/>
<rect x="166" y="423.83" width="2" height="3.57" fill="#b9b7e2"/>
<rect x="168" y="276.80" width="2" height="1.30" fill="#2b1852"/>
<rect x="168" y="278.10" width="2" height="1.56" fill="#2a4b8a"/>
<rect x="168" y="279.66" width="2" height="122.32" fill="#3d6ec0"/>
<rect x="168" y="401.98" width="2" height="15.36" fill="#8b8bcc"/>
<rect x="168" y="417.34" width="2" height="10.06" fill="#b9b7e2"/>
<rect x="170" y="276.80" width="2" height="1.16" fill="#2b1852"/>
<rect x="170" y="277.96" width="2" height="0.19" fill="#2a4b8a"/>
<rect x="170" y="278.15" width="2" height="118.53" fill="#3d6ec0"/>
<rect x="170" y="396.68" width="2" height="16.21" fill="#8b8bcc"/>
<rect x="170" y="412.89" width="2" height="11.68" fill="#b9b7e2"/>
<rect x="170" y="424.57" width="2" height="2.83" fill="#e3e1f1"/>
<rect x="172" y="276.80" width="2" height="1.55" fill="#2b1852"/>
<rect x="172" y="278.35" width="2" height="1.71" fill="#2a4b8a"/>
<rect x="172" y="280.06" width="2" height="41.20" fill="#3d6ec0"/>
<rect x="172" y="321.25" width="2" height="20.96" fill="#8b8bcc"/>
<rect x="172" y="342.21" width="2" height="44.33" fill="#b9b7e2"/>
<rect x="172" y="386.54" width="2" height="40.86" fill="#e3e1f1"/>
<rect x="174" y="276.80" width="2" height="1.32" fill="#2b1852"/>
<rect x="174" y="278.12" width="2" height="1.00" fill="#2a4b8a"/>
<rect x="174" y="279.12" width="2" height="40.43" fill="#3d6ec0"/>
<rect x="174" y="319.55" width="2" height="14.88" fill="#8b8bcc"/>
<rect x="174" y="334.43" width="2" height="11.19" fill="#b9b7e2"/>
<rect x="174" y="345.62" width="2" height="81.78" fill="#e3e1f1"/>
<rect x="176" y="276.80" width="2" height="7.57" fill="#2b1852"/>
<rect x="176" y="284.37" width="2" height="18.57" fill="#2a4b8a"/>
<rect x="176" y="302.94" width="2" height="27.67" fill="#3d6ec0"/>
<rect x="176" y="330.61" width="2" height="31.87" fill="#8b8bcc"/>
<rect x="176" y="362.49" width="2" height="17.24" fill="#b9b7e2"/>
<rect x="176" y="379.72" width="2" height="47.68" fill="#e3e1f1"/>
<rect x="178" y="276.80" width="2" height="1.44" fill="#2b1852"/>
<rect x="178" y="278.24" width="2" height="0.44" fill="#2a4b8a"/>
<rect x="178" y="278.68" width="2" height="71.22" fill="#3d6ec0"/>
<rect x="178" y="349.90" width="2" height="15.27" fill="#8b8bcc"/>
<rect x="178" y="365.17" width="2" height="26.69" fill="#b9b7e2"/>
<rect x="178" y="391.86" width="2" height="35.54" fill="#e3e1f1"/>
<rect x="180" y="276.80" width="2" height="1.41" fill="#2b1852"/>
<rect x="180" y="278.32" width="2" height="138.21" fill="#3d6ec0"/>
<rect x="180" y="416.52" width="2" height="5.81" fill="#8b8bcc"/>
<rect x="180" y="422.33" width="2" height="5.07" fill="#b9b7e2"/>
<rect x="182" y="276.80" width="2" height="1.61" fill="#2b1852"/>
<rect x="182" y="278.41" width="2" height="0.99" fill="#2a4b8a"/>
<rect x="182" y="279.41" width="2" height="55.17" fill="#3d6ec0"/>
<rect x="182" y="334.58" width="2" height="19.77" fill="#8b8bcc"/>
<rect x="182" y="354.35" width="2" height="30.82" fill="#b9b7e2"/>
<rect x="182" y="385.17" width="2" height="42.23" fill="#e3e1f1"/>
<rect x="184" y="276.80" width="2" height="1.08" fill="#2b1852"/>
<rect x="184" y="277.88" width="2" height="0.62" fill="#2a4b8a"/>
<rect x="184" y="278.50" width="2" height="1.99" fill="#3d6ec0"/>
<rect x="184" y="280.49" width="2" height="29.14" fill="#8b8bcc"/>
<rect x="184" y="309.63" width="2" height="23.01" fill="#b9b7e2"/>
<rect x="184" y="332.64" width="2" height="94.76" fill="#e3e1f1"/>
<rect x="186" y="276.80" width="2" height="1.55" fill="#2b1852"/>
<rect x="186" y="278.35" width="2" height="0.71" fill="#2a4b8a"/>
<rect x="186" y="279.07" width="2" height="11.89" fill="#8b8bcc"/>
<rect x="186" y="290.96" width="2" height="20.39" fill="#b9b7e2"/>
<rect x="186" y="311.35" width="2" height="116.05" fill="#e3e1f1"/>
<rect x="188" y="276.80" width="2" height="11.13" fill="#2b1852"/>
<rect x="188" y="287.93" width="2" height="64.17" fill="#2a4b8a"/>
<rect x="188" y="352.10" width="2" height="56.57" fill="#3d6ec0"/>
<rect x="188" y="408.67" width="2" height="2.50" fill="#8b8bcc"/>
<rect x="188" y="411.17" width="2" height="1.15" fill="#b9b7e2"/>
<rect x="188" y="412.32" width="2" height="15.08" fill="#e3e1f1"/>
<rect x="190" y="276.80" width="2" height="0.88" fill="#2b1852"/>
<rect x="190" y="277.68" width="2" height="0.53" fill="#2a4b8a"/>
<rect x="190" y="278.21" width="2" height="11.91" fill="#8b8bcc"/>
<rect x="190" y="290.12" width="2" height="11.19" fill="#b9b7e2"/>
<rect x="190" y="301.31" width="2" height="126.09" fill="#e3e1f1"/>
<rect x="192" y="276.80" width="2" height="1.55" fill="#2b1852"/>
<rect x="192" y="278.35" width="2" height="0.65" fill="#2a4b8a"/>
<rect x="192" y="279.00" width="2" height="74.99" fill="#3d6ec0"/>
<rect x="192" y="353.98" width="2" height="15.60" fill="#8b8bcc"/>
<rect x="192" y="369.58" width="2" height="24.97" fill="#b9b7e2"/>
<rect x="192" y="394.54" width="2" height="32.86" fill="#e3e1f1"/>
<rect x="194" y="276.80" width="2" height="0.98" fill="#2b1852"/>
<rect x="194" y="277.78" width="2" height="0.61" fill="#2a4b8a"/>
<rect x="194" y="278.39" width="2" height="136.15" fill="#3d6ec0"/>
<rect x="194" y="414.54" width="2" height="1.14" fill="#8b8bcc"/>
<rect x="194" y="415.68" width="2" height="2.45" fill="#b9b7e2"/>
<rect x="194" y="418.13" width="2" height="9.27" fill="#e3e1f1"/>
<rect x="196" y="276.80" width="2" height="7.86" fill="#2b1852"/>
<rect x="196" y="284.66" width="2" height="22.09" fill="#2a4b8a"/>
<rect x="196" y="306.75" width="2" height="13.82" fill="#3d6ec0"/>
<rect x="196" y="320.57" width="2" height="18.15" fill="#8b8bcc"/>
<rect x="196" y="338.72" width="2" height="32.85" fill="#b9b7e2"/>
<rect x="196" y="371.57" width="2" height="55.83" fill="#e3e1f1"/>
<rect x="198" y="276.80" width="2" height="13.06" fill="#2b1852"/>
<rect x="198" y="289.86" width="2" height="16.72" fill="#2a4b8a"/>
<rect x="198" y="306.57" width="2" height="30.59" fill="#3d6ec0"/>
<rect x="198" y="337.17" width="2" height="23.81" fill="#8b8bcc"/>
<rect x="198" y="360.97" width="2" height="24.40" fill="#b9b7e2"/>
<rect x="198" y="385.37" width="2" height="42.03" fill="#e3e1f1"/>
<rect x="200" y="276.80" width="2" height="1.67" fill="#2b1852"/>
<rect x="200" y="278.47" width="2" height="0.30" fill="#2a4b8a"/>
<rect x="200" y="278.76" width="2" height="133.71" fill="#3d6ec0"/>
<rect x="200" y="412.48" width="2" height="6.27" fill="#8b8bcc"/>
<rect x="200" y="418.74" width="2" height="8.66" fill="#b9b7e2"/>
<rect x="202" y="276.80" width="2" height="0.87" fill="#2b1852"/>
<rect x="202" y="277.67" width="2" height="1.57" fill="#2a4b8a"/>
<rect x="202" y="279.25" width="2" height="110.10" fill="#3d6ec0"/>
<rect x="202" y="389.34" width="2" height="7.67" fill="#8b8bcc"/>
<rect x="202" y="397.02" width="2" height="15.39" fill="#b9b7e2"/>
<rect x="202" y="412.41" width="2" height="14.99" fill="#e3e1f1"/>
<rect x="204" y="276.80" width="2" height="1.39" fill="#2b1852"/>
<rect x="204" y="278.23" width="2" height="121.33" fill="#3d6ec0"/>
<rect x="204" y="399.55" width="2" height="13.21" fill="#8b8bcc"/>
<rect x="204" y="412.76" width="2" height="14.64" fill="#b9b7e2"/>
<rect x="206" y="276.80" width="2" height="0.78" fill="#2b1852"/>
<rect x="206" y="277.58" width="2" height="0.20" fill="#2a4b8a"/>
<rect x="206" y="277.78" width="2" height="66.89" fill="#3d6ec0"/>
<rect x="206" y="344.66" width="2" height="27.16" fill="#8b8bcc"/>
<rect x="206" y="371.83" width="2" height="12.19" fill="#b9b7e2"/>
<rect x="206" y="384.02" width="2" height="43.38" fill="#e3e1f1"/>
<rect x="208" y="276.80" width="2" height="5.75" fill="#2b1852"/>
<rect x="208" y="282.55" width="2" height="15.09" fill="#2a4b8a"/>
<rect x="208" y="297.65" width="2" height="10.32" fill="#3d6ec0"/>
<rect x="208" y="307.97" width="2" height="24.88" fill="#8b8bcc"/>
<rect x="208" y="332.85" width="2" height="29.36" fill="#b9b7e2"/>
<rect x="208" y="362.21" width="2" height="65.19" fill="#e3e1f1"/>
<rect x="210" y="276.80" width="2" height="0.82" fill="#2b1852"/>
<rect x="210" y="277.62" width="2" height="1.18" fill="#2a4b8a"/>
<rect x="210" y="278.80" width="2" height="27.61" fill="#3d6ec0"/>
<rect x="210" y="306.41" width="2" height="21.30" fill="#8b8bcc"/>
<rect x="210" y="327.70" width="2" height="43.53" fill="#b9b7e2"/>
<rect x="210" y="371.23" width="2" height="56.17" fill="#e3e1f1"/>
<rect x="212" y="276.80" width="2" height="1.58" fill="#2b1852"/>
<rect x="212" y="278.38" width="2" height="1.51" fill="#2a4b8a"/>
<rect x="212" y="279.89" width="2" height="41.76" fill="#3d6ec0"/>
<rect x="212" y="321.65" width="2" height="38.52" fill="#8b8bcc"/>
<rect x="212" y="360.17" width="2" height="17.00" fill="#b9b7e2"/>
<rect x="212" y="377.17" width="2" height="50.23" fill="#e3e1f1"/>
<rect x="214" y="276.80" width="2" height="1.19" fill="#2b1852"/>
<rect x="214" y="277.99" width="2" height="1.81" fill="#2a4b8a"/>
<rect x="214" y="279.79" width="2" height="46.87" fill="#3d6ec0"/>
<rect x="214" y="326.67" width="2" height="18.92" fill="#8b8bcc"/>
<rect x="214" y="345.59" width="2" height="42.34" fill="#b9b7e2"/>
<rect x="214" y="387.93" width="2" height="39.47" fill="#e3e1f1"/>
<rect x="216" y="276.80" width="2" height="0.81" fill="#2b1852"/>
<rect x="216" y="277.61" width="2" height="0.77" fill="#2a4b8a"/>
<rect x="216" y="278.38" width="2" height="104.31" fill="#3d6ec0"/>
<rect x="216" y="382.69" width="2" height="14.05" fill="#8b8bcc"/>
<rect x="216" y="396.74" width="2" height="18.62" fill="#b9b7e2"/>
<rect x="216" y="415.37" width="2" height="12.03" fill="#e3e1f1"/>
<rect x="218" y="276.80" width="2" height="11.99" fill="#2b1852"/>
<rect x="218" y="288.79" width="2" height="18.95" fill="#2a4b8a"/>
<rect x="218" y="307.74" width="2" height="44.28" fill="#3d6ec0"/>
<rect x="218" y="352.02" width="2" height="28.12" fill="#8b8bcc"/>
<rect x="218" y="380.14" width="2" height="14.56" fill="#b9b7e2"/>
<rect x="218" y="394.71" width="2" height="32.69" fill="#e3e1f1"/>
<rect x="220" y="276.80" width="2" height="1.58" fill="#2b1852"/>
<rect x="220" y="278.38" width="2" height="0.82" fill="#2a4b8a"/>
<rect x="220" y="279.20" width="2" height="77.64" fill="#3d6ec0"/>
<rect x="220" y="356.84" width="2" height="29.46" fill="#8b8bcc"/>
<rect x="220" y="386.30" width="2" height="15.18" fill="#b9b7e2"/>
<rect x="220" y="401.48" width="2" height="25.92" fill="#e3e1f1"/>
<rect x="222" y="276.80" width="2" height="1.67" fill="#2b1852"/>
<rect x="222" y="278.47" width="2" height="1.41" fill="#2a4b8a"/>
<rect x="222" y="279.88" width="2" height="137.06" fill="#3d6ec0"/>
<rect x="222" y="416.93" width="2" height="3.68" fill="#8b8bcc"/>
<rect x="222" y="420.61" width="2" height="6.79" fill="#b9b7e2"/>
<rect x="224" y="276.80" width="2" height="54.12" fill="#2b1852"/>
<rect x="224" y="330.92" width="2" height="88.95" fill="#2a4b8a"/>
<rect x="224" y="419.87" width="2" height="0.59" fill="#3d6ec0"/>
<rect x="224" y="420.46" width="2" height="2.39" fill="#8b8bcc"/>
<rect x="224" y="422.85" width="2" height="1.36" fill="#b9b7e2"/>
<rect x="224" y="424.21" width="2" height="3.19" fill="#e3e1f1"/>
<rect x="226" y="276.80" width="2" height="24.77" fill="#2b1852"/>
<rect x="226" y="301.57" width="2" height="110.77" fill="#2a4b8a"/>
<rect x="226" y="412.34" width="2" height="7.54" fill="#3d6ec0"/>
<rect x="226" y="419.88" width="2" height="0.32" fill="#8b8bcc"/>
<rect x="226" y="420.20" width="2" height="0.20" fill="#b9b7e2"/>
<rect x="226" y="420.40" width="2" height="7.00" fill="#e3e1f1"/>
<rect x="228" y="276.80" width="2" height="3.40" fill="#2b1852"/>
<rect x="228" y="280.20" width="2" height="12.39" fill="#2a4b8a"/>
<rect x="228" y="292.60" width="2" height="132.55" fill="#3d6ec0"/>
<rect x="228" y="425.15" width="2" height="2.25" fill="#e3e1f1"/>
<rect x="230" y="276.80" width="2" height="1.49" fill="#2b1852"/>
<rect x="230" y="278.29" width="2" height="0.73" fill="#2a4b8a"/>
<rect x="230" y="279.02" width="2" height="0.58" fill="#3d6ec0"/>
<rect x="230" y="279.60" width="2" height="8.13" fill="#8b8bcc"/>
<rect x="230" y="287.73" width="2" height="17.10" fill="#b9b7e2"/>
<rect x="230" y="304.84" width="2" height="122.56" fill="#e3e1f1"/>
<rect x="232" y="276.80" width="3" height="0.81" fill="#2b1852"/>
<rect x="232" y="277.61" width="3" height="1.36" fill="#2a4b8a"/>
<rect x="232" y="278.97" width="3" height="70.72" fill="#3d6ec0"/>
<rect x="232" y="349.68" width="3" height="26.52" fill="#8b8bcc"/>
<rect x="232" y="376.20" width="3" height="19.27" fill="#b9b7e2"/>
<rect x="232" y="395.47" width="3" height="31.93" fill="#e3e1f1"/>
<text x="283.2" y="268.2" font-size="9.2" text-anchor="middle" fill="#1a1a1a" font-weight="normal" dominant-baseline="central" stroke="#1a1a1a" stroke-width="0.05">Month 6</text>
<rect x="239" y="276.80" width="2" height="1.77" fill="#2b1852"/>
<rect x="239" y="278.57" width="2" height="0.97" fill="#2a4b8a"/>
<rect x="239" y="279.54" width="2" height="34.59" fill="#3d6ec0"/>
<rect x="239" y="314.13" width="2" height="68.09" fill="#8b8bcc"/>
<rect x="239" y="382.22" width="2" height="45.18" fill="#b9b7e2"/>
<rect x="241" y="276.80" width="2" height="6.70" fill="#2b1852"/>
<rect x="241" y="283.50" width="2" height="25.29" fill="#2a4b8a"/>
<rect x="241" y="308.79" width="2" height="28.86" fill="#3d6ec0"/>
<rect x="241" y="337.66" width="2" height="9.73" fill="#8b8bcc"/>
<rect x="241" y="347.39" width="2" height="15.23" fill="#b9b7e2"/>
<rect x="241" y="362.62" width="2" height="64.78" fill="#e3e1f1"/>
<rect x="243" y="276.80" width="2" height="13.76" fill="#2b1852"/>
<rect x="243" y="290.56" width="2" height="17.33" fill="#2a4b8a"/>
<rect x="243" y="307.89" width="2" height="22.45" fill="#3d6ec0"/>
<rect x="243" y="330.34" width="2" height="7.83" fill="#8b8bcc"/>
<rect x="243" y="338.17" width="2" height="9.33" fill="#b9b7e2"/>
<rect x="243" y="347.50" width="2" height="79.90" fill="#e3e1f1"/>
<rect x="245" y="276.80" width="2" height="0.76" fill="#2b1852"/>
<rect x="245" y="277.56" width="2" height="1.77" fill="#2a4b8a"/>
<rect x="245" y="279.32" width="2" height="79.23" fill="#3d6ec0"/>
<rect x="245" y="358.55" width="2" height="59.81" fill="#8b8bcc"/>
<rect x="245" y="418.36" width="2" height="9.04" fill="#b9b7e2"/>
<rect x="247" y="276.80" width="2" height="1.64" fill="#2b1852"/>
<rect x="247" y="278.44" width="2" height="1.72" fill="#2a4b8a"/>
<rect x="247" y="280.16" width="2" height="42.56" fill="#3d6ec0"/>
<rect x="247" y="322.72" width="2" height="95.64" fill="#8b8bcc"/>
<rect x="247" y="418.36" width="2" height="9.04" fill="#b9b7e2"/>
<rect x="249" y="276.80" width="2" height="11.23" fill="#2b1852"/>
<rect x="249" y="288.03" width="2" height="18.64" fill="#2a4b8a"/>
<rect x="249" y="306.68" width="2" height="35.91" fill="#3d6ec0"/>
<rect x="249" y="342.59" width="2" height="18.98" fill="#8b8bcc"/>
<rect x="249" y="361.57" width="2" height="24.40" fill="#b9b7e2"/>
<rect x="249" y="385.97" width="2" height="41.43" fill="#e3e1f1"/>
<rect x="251" y="276.80" width="2" height="6.05" fill="#2b1852"/>
<rect x="251" y="282.85" width="2" height="21.18" fill="#2a4b8a"/>
<rect x="251" y="304.03" width="2" height="19.38" fill="#3d6ec0"/>
<rect x="251" y="323.42" width="2" height="9.03" fill="#8b8bcc"/>
<rect x="251" y="332.44" width="2" height="6.43" fill="#b9b7e2"/>
<rect x="251" y="338.87" width="2" height="88.53" fill="#e3e1f1"/>
<rect x="253" y="276.80" width="2" height="0.89" fill="#2b1852"/>
<rect x="253" y="277.69" width="2" height="0.51" fill="#2a4b8a"/>
<rect x="253" y="278.21" width="2" height="131.46" fill="#3d6ec0"/>
<rect x="253" y="409.67" width="2" height="5.68" fill="#8b8bcc"/>
<rect x="253" y="415.35" width="2" height="12.05" fill="#b9b7e2"/>
<rect x="255" y="276.80" width="2" height="1.63" fill="#2b1852"/>
<rect x="255" y="278.43" width="2" height="88.73" fill="#2a4b8a"/>
<rect x="255" y="367.16" width="2" height="46.70" fill="#3d6ec0"/>
<rect x="255" y="413.86" width="2" height="6.92" fill="#8b8bcc"/>
<rect x="255" y="420.77" width="2" height="6.63" fill="#b9b7e2"/>
<rect x="257" y="276.80" width="2" height="1.75" fill="#2b1852"/>
<rect x="257" y="278.55" width="2" height="0.94" fill="#2a4b8a"/>
<rect x="257" y="279.49" width="2" height="48.70" fill="#3d6ec0"/>
<rect x="257" y="328.19" width="2" height="34.85" fill="#8b8bcc"/>
<rect x="257" y="363.04" width="2" height="16.69" fill="#b9b7e2"/>
<rect x="257" y="379.73" width="2" height="47.67" fill="#e3e1f1"/>
<rect x="259" y="276.80" width="2" height="13.27" fill="#2b1852"/>
<rect x="259" y="290.07" width="2" height="17.01" fill="#2a4b8a"/>
<rect x="259" y="307.08" width="2" height="25.76" fill="#3d6ec0"/>
<rect x="259" y="332.84" width="2" height="15.70" fill="#8b8bcc"/>
<rect x="259" y="348.54" width="2" height="9.95" fill="#b9b7e2"/>
<rect x="259" y="358.49" width="2" height="68.91" fill="#e3e1f1"/>
<rect x="261" y="276.80" width="2" height="8.63" fill="#2b1852"/>
<rect x="261" y="285.43" width="2" height="15.81" fill="#2a4b8a"/>
<rect x="261" y="301.25" width="2" height="53.01" fill="#3d6ec0"/>
<rect x="261" y="354.26" width="2" height="15.06" fill="#8b8bcc"/>
<rect x="261" y="369.32" width="2" height="16.01" fill="#b9b7e2"/>
<rect x="261" y="385.33" width="2" height="42.07" fill="#e3e1f1"/>
<rect x="263" y="276.80" width="2" height="0.91" fill="#2b1852"/>
<rect x="263" y="277.71" width="2" height="1.75" fill="#2a4b8a"/>
<rect x="263" y="279.46" width="2" height="112.95" fill="#3d6ec0"/>
<rect x="263" y="392.41" width="2" height="7.96" fill="#8b8bcc"/>
<rect x="263" y="400.37" width="2" height="20.60" fill="#b9b7e2"/>
<rect x="263" y="420.97" width="2" height="6.43" fill="#e3e1f1"/>
<rect x="265" y="276.80" width="2" height="1.10" fill="#2b1852"/>
<rect x="265" y="277.90" width="2" height="0.27" fill="#2a4b8a"/>
<rect x="265" y="278.17" width="2" height="103.30" fill="#3d6ec0"/>
<rect x="265" y="381.47" width="2" height="30.87" fill="#8b8bcc"/>
<rect x="265" y="412.34" width="2" height="12.30" fill="#b9b7e2"/>
<rect x="265" y="424.64" width="2" height="2.76" fill="#e3e1f1"/>
<rect x="267" y="276.80" width="2" height="1.08" fill="#2b1852"/>
<rect x="267" y="277.88" width="2" height="0.86" fill="#2a4b8a"/>
<rect x="267" y="278.74" width="2" height="12.11" fill="#3d6ec0"/>
<rect x="267" y="290.85" width="2" height="9.16" fill="#8b8bcc"/>
<rect x="267" y="300.01" width="2" height="6.77" fill="#b9b7e2"/>
<rect x="267" y="306.78" width="2" height="120.62" fill="#e3e1f1"/>
<rect x="269" y="276.80" width="2" height="1.44" fill="#2b1852"/>
<rect x="269" y="278.24" width="2" height="21.15" fill="#2a4b8a"/>
<rect x="269" y="299.39" width="2" height="50.70" fill="#3d6ec0"/>
<rect x="269" y="350.09" width="2" height="17.62" fill="#8b8bcc"/>
<rect x="269" y="367.70" width="2" height="25.38" fill="#b9b7e2"/>
<rect x="269" y="393.09" width="2" height="34.31" fill="#e3e1f1"/>
<rect x="271" y="276.80" width="2" height="21.43" fill="#2b1852"/>
<rect x="271" y="298.23" width="2" height="61.12" fill="#2a4b8a"/>
<rect x="271" y="359.35" width="2" height="8.62" fill="#3d6ec0"/>
<rect x="271" y="367.98" width="2" height="12.49" fill="#8b8bcc"/>
<rect x="271" y="380.46" width="2" height="11.95" fill="#b9b7e2"/>
<rect x="271" y="392.41" width="2" height="34.99" fill="#e3e1f1"/>
<rect x="273" y="276.80" width="2" height="1.45" fill="#2b1852"/>
<rect x="273" y="278.25" width="2" height="1.22" fill="#2a4b8a"/>
<rect x="273" y="279.47" width="2" height="78.99" fill="#3d6ec0"/>
<rect x="273" y="358.46" width="2" height="65.93" fill="#8b8bcc"/>
<rect x="273" y="424.39" width="2" height="3.01" fill="#b9b7e2"/>
<rect x="275" y="276.80" width="2" height="13.90" fill="#2b1852"/>
<rect x="275" y="290.70" width="2" height="18.53" fill="#2a4b8a"/>
<rect x="275" y="309.23" width="2" height="10.60" fill="#3d6ec0"/>
<rect x="275" y="319.82" width="2" height="9.07" fill="#8b8bcc"/>
<rect x="275" y="328.89" width="2" height="8.74" fill="#b9b7e2"/>
<rect x="275" y="337.63" width="2" height="89.77" fill="#e3e1f1"/>
<rect x="277" y="276.80" width="2" height="3.54" fill="#2b1852"/>
<rect x="277" y="280.34" width="2" height="12.89" fill="#2a4b8a"/>
<rect x="277" y="293.24" width="2" height="20.09" fill="#3d6ec0"/>
<rect x="277" y="313.33" width="2" height="7.88" fill="#8b8bcc"/>
<rect x="277" y="321.21" width="2" height="10.18" fill="#b9b7e2"/>
<rect x="277" y="331.39" width="2" height="96.01" fill="#e3e1f1"/>
<rect x="279" y="276.80" width="2" height="1.11" fill="#2b1852"/>
<rect x="279" y="277.91" width="2" height="0.17" fill="#2a4b8a"/>
<rect x="279" y="278.09" width="2" height="12.25" fill="#3d6ec0"/>
<rect x="279" y="290.33" width="2" height="14.42" fill="#8b8bcc"/>
<rect x="279" y="304.76" width="2" height="20.37" fill="#b9b7e2"/>
<rect x="279" y="325.13" width="2" height="102.27" fill="#e3e1f1"/>
<rect x="281" y="276.80" width="2" height="6.99" fill="#2b1852"/>
<rect x="281" y="283.79" width="2" height="13.76" fill="#2a4b8a"/>
<rect x="281" y="297.55" width="2" height="74.26" fill="#3d6ec0"/>
<rect x="281" y="371.81" width="2" height="7.77" fill="#8b8bcc"/>
<rect x="281" y="379.58" width="2" height="16.11" fill="#b9b7e2"/>
<rect x="281" y="395.69" width="2" height="31.71" fill="#e3e1f1"/>
<rect x="283" y="276.80" width="2" height="1.22" fill="#2b1852"/>
<rect x="283" y="278.02" width="2" height="0.84" fill="#2a4b8a"/>
<rect x="283" y="278.86" width="2" height="132.78" fill="#3d6ec0"/>
<rect x="283" y="411.64" width="2" height="7.55" fill="#8b8bcc"/>
<rect x="283" y="419.19" width="2" height="7.59" fill="#b9b7e2"/>
<rect x="283" y="426.78" width="2" height="0.62" fill="#e3e1f1"/>
<rect x="285" y="276.80" width="2" height="1.66" fill="#2b1852"/>
<rect x="285" y="278.46" width="2" height="1.25" fill="#2a4b8a"/>
<rect x="285" y="279.71" width="2" height="84.96" fill="#3d6ec0"/>
<rect x="285" y="364.67" width="2" height="17.62" fill="#8b8bcc"/>
<rect x="285" y="382.29" width="2" height="10.52" fill="#b9b7e2"/>
<rect x="285" y="392.81" width="2" height="34.59" fill="#e3e1f1"/>
<rect x="287" y="276.80" width="2" height="32.12" fill="#2b1852"/>
<rect x="287" y="308.92" width="2" height="73.30" fill="#2a4b8a"/>
<rect x="287" y="382.22" width="2" height="31.25" fill="#3d6ec0"/>
<rect x="287" y="413.47" width="2" height="0.49" fill="#8b8bcc"/>
<rect x="287" y="413.96" width="2" height="0.65" fill="#b9b7e2"/>
<rect x="287" y="414.62" width="2" height="12.78" fill="#e3e1f1"/>
<rect x="289" y="276.80" width="2" height="9.21" fill="#2b1852"/>
<rect x="289" y="286.01" width="2" height="36.80" fill="#2a4b8a"/>
<rect x="289" y="322.80" width="2" height="88.28" fill="#3d6ec0"/>
<rect x="289" y="411.08" width="2" height="4.89" fill="#8b8bcc"/>
<rect x="289" y="415.97" width="2" height="11.12" fill="#b9b7e2"/>
<rect x="289" y="427.09" width="2" height="0.31" fill="#e3e1f1"/>
<rect x="291" y="276.80" width="2" height="0.62" fill="#2b1852"/>
<rect x="291" y="277.42" width="2" height="1.27" fill="#2a4b8a"/>
<rect x="291" y="278.69" width="2" height="57.83" fill="#3d6ec0"/>
<rect x="291" y="336.52" width="2" height="11.36" fill="#8b8bcc"/>
<rect x="291" y="347.88" width="2" height="19.97" fill="#b9b7e2"/>
<rect x="291" y="367.85" width="2" height="59.55" fill="#e3e1f1"/>
<rect x="293" y="276.80" width="2" height="1.66" fill="#2b1852"/>
<rect x="293" y="278.46" width="2" height="1.31" fill="#2a4b8a"/>
<rect x="293" y="279.77" width="2" height="41.26" fill="#3d6ec0"/>
<rect x="293" y="321.03" width="2" height="16.35" fill="#8b8bcc"/>
<rect x="293" y="337.38" width="2" height="23.86" fill="#b9b7e2"/>
<rect x="293" y="361.23" width="2" height="66.17" fill="#e3e1f1"/>
<rect x="295" y="276.80" width="2" height="7.55" fill="#2b1852"/>
<rect x="295" y="284.35" width="2" height="18.17" fill="#2a4b8a"/>
<rect x="295" y="302.52" width="2" height="16.93" fill="#3d6ec0"/>
<rect x="295" y="319.45" width="2" height="13.03" fill="#8b8bcc"/>
<rect x="295" y="332.48" width="2" height="19.59" fill="#b9b7e2"/>
<rect x="295" y="352.06" width="2" height="75.34" fill="#e3e1f1"/>
<rect x="297" y="276.80" width="2" height="11.47" fill="#2b1852"/>
<rect x="297" y="288.27" width="2" height="15.70" fill="#2a4b8a"/>
<rect x="297" y="303.97" width="2" height="16.32" fill="#3d6ec0"/>
<rect x="297" y="320.29" width="2" height="15.39" fill="#8b8bcc"/>
<rect x="297" y="335.68" width="2" height="20.33" fill="#b9b7e2"/>
<rect x="297" y="356.01" width="2" height="71.39" fill="#e3e1f1"/>
<rect x="299" y="276.80" width="2" height="1.78" fill="#2b1852"/>
<rect x="299" y="278.58" width="2" height="1.60" fill="#2a4b8a"/>
<rect x="299" y="280.18" width="2" height="40.24" fill="#3d6ec0"/>
<rect x="299" y="320.42" width="2" height="11.27" fill="#8b8bcc"/>
<rect x="299" y="331.69" width="2" height="9.34" fill="#b9b7e2"/>
<rect x="299" y="341.04" width="2" height="86.36" fill="#e3e1f1"/>
<rect x="301" y="276.80" width="2" height="1.07" fill="#2b1852"/>
<rect x="301" y="277.87" width="2" height="0.51" fill="#2a4b8a"/>
<rect x="301" y="278.38" width="2" height="22.80" fill="#3d6ec0"/>
<rect x="301" y="301.18" width="2" height="18.04" fill="#8b8bcc"/>
<rect x="301" y="319.21" width="2" height="26.36" fill="#b9b7e2"/>
<rect x="301" y="345.57" width="2" height="81.83" fill="#e3e1f1"/>
<rect x="303" y="276.80" width="2" height="0.94" fill="#2b1852"/>
<rect x="303" y="277.74" width="2" height="1.19" fill="#2a4b8a"/>
<rect x="303" y="278.93" width="2" height="27.49" fill="#3d6ec0"/>
<rect x="303" y="306.42" width="2" height="21.86" fill="#8b8bcc"/>
<rect x="303" y="328.28" width="2" height="14.19" fill="#b9b7e2"/>
<rect x="303" y="342.47" width="2" height="84.93" fill="#e3e1f1"/>
<rect x="305" y="276.80" width="2" height="0.91" fill="#2b1852"/>
<rect x="305" y="277.86" width="2" height="5.35" fill="#3d6ec0"/>
<rect x="305" y="283.20" width="2" height="11.38" fill="#8b8bcc"/>
<rect x="305" y="294.58" width="2" height="20.10" fill="#b9b7e2"/>
<rect x="305" y="314.68" width="2" height="112.72" fill="#e3e1f1"/>
<rect x="307" y="276.80" width="2" height="9.46" fill="#2b1852"/>
<rect x="307" y="286.26" width="2" height="28.75" fill="#2a4b8a"/>
<rect x="307" y="315.01" width="2" height="60.12" fill="#3d6ec0"/>
<rect x="307" y="375.12" width="2" height="11.41" fill="#8b8bcc"/>
<rect x="307" y="386.53" width="2" height="6.73" fill="#b9b7e2"/>
<rect x="307" y="393.26" width="2" height="34.14" fill="#e3e1f1"/>
<rect x="309" y="276.80" width="2" height="31.45" fill="#2b1852"/>
<rect x="309" y="308.25" width="2" height="73.97" fill="#2a4b8a"/>
<rect x="309" y="382.22" width="2" height="21.83" fill="#3d6ec0"/>
<rect x="309" y="404.05" width="2" height="7.29" fill="#8b8bcc"/>
<rect x="309" y="411.35" width="2" height="9.46" fill="#b9b7e2"/>
<rect x="309" y="420.81" width="2" height="6.59" fill="#e3e1f1"/>
<rect x="311" y="276.80" width="2" height="6.97" fill="#2b1852"/>
<rect x="311" y="283.77" width="2" height="24.09" fill="#2a4b8a"/>
<rect x="311" y="307.86" width="2" height="53.06" fill="#3d6ec0"/>
<rect x="311" y="360.92" width="2" height="8.83" fill="#8b8bcc"/>
<rect x="311" y="369.75" width="2" height="14.20" fill="#b9b7e2"/>
<rect x="311" y="383.95" width="2" height="43.45" fill="#e3e1f1"/>
<rect x="313" y="276.80" width="2" height="8.48" fill="#2b1852"/>
<rect x="313" y="285.28" width="2" height="21.43" fill="#2a4b8a"/>
<rect x="313" y="306.71" width="2" height="25.01" fill="#3d6ec0"/>
<rect x="313" y="331.72" width="2" height="10.15" fill="#8b8bcc"/>
<rect x="313" y="341.87" width="2" height="13.03" fill="#b9b7e2"/>
<rect x="313" y="354.90" width="2" height="72.50" fill="#e3e1f1"/>
<rect x="315" y="276.80" width="2" height="0.95" fill="#2b1852"/>
<rect x="315" y="277.75" width="2" height="0.58" fill="#2a4b8a"/>
<rect x="315" y="278.33" width="2" height="53.34" fill="#3d6ec0"/>
<rect x="315" y="331.67" width="2" height="17.02" fill="#8b8bcc"/>
<rect x="315" y="348.69" width="2" height="23.71" fill="#b9b7e2"/>
<rect x="315" y="372.40" width="2" height="55.00" fill="#e3e1f1"/>
<rect x="317" y="276.80" width="2" height="0.71" fill="#2b1852"/>
<rect x="317" y="277.51" width="2" height="1.19" fill="#2a4b8a"/>
<rect x="317" y="278.70" width="2" height="88.94" fill="#3d6ec0"/>
<rect x="317" y="367.64" width="2" height="13.62" fill="#8b8bcc"/>
<rect x="317" y="381.25" width="2" height="12.60" fill="#b9b7e2"/>
<rect x="317" y="393.85" width="2" height="33.55" fill="#e3e1f1"/>
<rect x="319" y="276.80" width="2" height="1.63" fill="#2b1852"/>
<rect x="319" y="278.43" width="2" height="1.09" fill="#2a4b8a"/>
<rect x="319" y="279.52" width="2" height="140.72" fill="#3d6ec0"/>
<rect x="319" y="420.24" width="2" height="0.30" fill="#8b8bcc"/>
<rect x="319" y="420.54" width="2" height="0.33" fill="#b9b7e2"/>
<rect x="319" y="420.87" width="2" height="6.53" fill="#e3e1f1"/>
<rect x="321" y="276.80" width="2" height="0.64" fill="#2b1852"/>
<rect x="321" y="277.44" width="2" height="0.41" fill="#2a4b8a"/>
<rect x="321" y="277.85" width="2" height="79.47" fill="#3d6ec0"/>
<rect x="321" y="357.32" width="2" height="14.21" fill="#8b8bcc"/>
<rect x="321" y="371.52" width="2" height="19.38" fill="#b9b7e2"/>
<rect x="321" y="390.90" width="2" height="36.50" fill="#e3e1f1"/>
<rect x="323" y="276.80" width="2" height="16.35" fill="#2b1852"/>
<rect x="323" y="293.15" width="2" height="58.95" fill="#2a4b8a"/>
<rect x="323" y="352.10" width="2" height="68.38" fill="#3d6ec0"/>
<rect x="323" y="420.65" width="2" height="6.75" fill="#e3e1f1"/>
<rect x="325" y="276.80" width="3" height="6.05" fill="#2b1852"/>
<rect x="325" y="282.85" width="3" height="9.36" fill="#2a4b8a"/>
<rect x="325" y="292.21" width="3" height="91.97" fill="#3d6ec0"/>
<rect x="325" y="384.19" width="3" height="10.18" fill="#8b8bcc"/>
<rect x="325" y="394.37" width="3" height="5.00" fill="#b9b7e2"/>
<rect x="325" y="399.37" width="3" height="28.03" fill="#e3e1f1"/>
<text x="376.09999999999997" y="268.2" font-size="9.2" text-anchor="middle" fill="#1a1a1a" font-weight="normal" dominant-baseline="central" stroke="#1a1a1a" stroke-width="0.05">Month 9</text>
<rect x="332" y="276.80" width="2" height="0.64" fill="#2b1852"/>
<rect x="332" y="277.44" width="2" height="21.95" fill="#2a4b8a"/>
<rect x="332" y="299.39" width="2" height="114.79" fill="#3d6ec0"/>
<rect x="332" y="414.18" width="2" height="8.70" fill="#8b8bcc"/>
<rect x="332" y="422.88" width="2" height="4.52" fill="#b9b7e2"/>
<rect x="334" y="276.80" width="2" height="10.45" fill="#2b1852"/>
<rect x="334" y="287.25" width="2" height="29.03" fill="#2a4b8a"/>
<rect x="334" y="316.28" width="2" height="88.44" fill="#3d6ec0"/>
<rect x="334" y="404.71" width="2" height="10.07" fill="#8b8bcc"/>
<rect x="334" y="414.78" width="2" height="8.71" fill="#b9b7e2"/>
<rect x="334" y="423.49" width="2" height="3.91" fill="#e3e1f1"/>
<rect x="336" y="276.80" width="2" height="14.61" fill="#2b1852"/>
<rect x="336" y="291.41" width="2" height="21.29" fill="#2a4b8a"/>
<rect x="336" y="312.70" width="2" height="16.77" fill="#3d6ec0"/>
<rect x="336" y="329.47" width="2" height="14.01" fill="#8b8bcc"/>
<rect x="336" y="343.48" width="2" height="18.90" fill="#b9b7e2"/>
<rect x="336" y="362.38" width="2" height="65.02" fill="#e3e1f1"/>
<rect x="338" y="276.80" width="2" height="1.32" fill="#2b1852"/>
<rect x="338" y="278.12" width="2" height="0.22" fill="#2a4b8a"/>
<rect x="338" y="278.34" width="2" height="42.79" fill="#3d6ec0"/>
<rect x="338" y="321.13" width="2" height="17.27" fill="#8b8bcc"/>
<rect x="338" y="338.40" width="2" height="18.41" fill="#b9b7e2"/>
<rect x="338" y="356.81" width="2" height="70.59" fill="#e3e1f1"/>
<rect x="340" y="276.80" width="2" height="12.32" fill="#2b1852"/>
<rect x="340" y="289.12" width="2" height="47.92" fill="#2a4b8a"/>
<rect x="340" y="337.04" width="2" height="12.42" fill="#3d6ec0"/>
<rect x="340" y="349.46" width="2" height="16.88" fill="#8b8bcc"/>
<rect x="340" y="366.33" width="2" height="13.00" fill="#b9b7e2"/>
<rect x="340" y="379.33" width="2" height="48.07" fill="#e3e1f1"/>
<rect x="342" y="276.80" width="2" height="16.93" fill="#2b1852"/>
<rect x="342" y="293.73" width="2" height="31.82" fill="#2a4b8a"/>
<rect x="342" y="325.55" width="2" height="32.30" fill="#3d6ec0"/>
<rect x="342" y="357.85" width="2" height="24.37" fill="#8b8bcc"/>
<rect x="342" y="382.22" width="2" height="12.34" fill="#b9b7e2"/>
<rect x="342" y="394.56" width="2" height="32.84" fill="#e3e1f1"/>
<rect x="344" y="276.80" width="2" height="13.40" fill="#2b1852"/>
<rect x="344" y="290.20" width="2" height="22.28" fill="#2a4b8a"/>
<rect x="344" y="312.48" width="2" height="14.60" fill="#3d6ec0"/>
<rect x="344" y="327.08" width="2" height="16.50" fill="#8b8bcc"/>
<rect x="344" y="343.58" width="2" height="35.62" fill="#b9b7e2"/>
<rect x="344" y="379.20" width="2" height="48.20" fill="#e3e1f1"/>
<rect x="346" y="276.80" width="2" height="13.29" fill="#2b1852"/>
<rect x="346" y="290.09" width="2" height="62.01" fill="#2a4b8a"/>
<rect x="346" y="352.10" width="2" height="69.29" fill="#3d6ec0"/>
<rect x="346" y="421.39" width="2" height="0.76" fill="#8b8bcc"/>
<rect x="346" y="422.16" width="2" height="1.43" fill="#b9b7e2"/>
<rect x="346" y="423.58" width="2" height="3.82" fill="#e3e1f1"/>
<rect x="348" y="276.80" width="2" height="14.55" fill="#2b1852"/>
<rect x="348" y="291.35" width="2" height="21.56" fill="#2a4b8a"/>
<rect x="348" y="312.90" width="2" height="83.23" fill="#3d6ec0"/>
<rect x="348" y="396.13" width="2" height="7.84" fill="#8b8bcc"/>
<rect x="348" y="403.97" width="2" height="13.63" fill="#b9b7e2"/>
<rect x="348" y="417.60" width="2" height="9.80" fill="#e3e1f1"/>
<rect x="350" y="276.80" width="2" height="30.22" fill="#2b1852"/>
<rect x="350" y="307.02" width="2" height="60.14" fill="#2a4b8a"/>
<rect x="350" y="367.16" width="2" height="12.65" fill="#3d6ec0"/>
<rect x="350" y="379.81" width="2" height="12.14" fill="#8b8bcc"/>
<rect x="350" y="391.96" width="2" height="8.37" fill="#b9b7e2"/>
<rect x="350" y="400.33" width="2" height="27.07" fill="#e3e1f1"/>
<rect x="352" y="276.80" width="2" height="11.22" fill="#2b1852"/>
<rect x="352" y="288.02" width="2" height="15.56" fill="#2a4b8a"/>
<rect x="352" y="303.59" width="2" height="53.99" fill="#3d6ec0"/>
<rect x="352" y="357.58" width="2" height="35.19" fill="#8b8bcc"/>
<rect x="352" y="392.76" width="2" height="9.07" fill="#b9b7e2"/>
<rect x="352" y="401.84" width="2" height="25.56" fill="#e3e1f1"/>
<rect x="354" y="276.80" width="2" height="16.92" fill="#2b1852"/>
<rect x="354" y="293.72" width="2" height="25.25" fill="#2a4b8a"/>
<rect x="354" y="318.97" width="2" height="1.60" fill="#3d6ec0"/>
<rect x="354" y="320.57" width="2" height="17.36" fill="#8b8bcc"/>
<rect x="354" y="337.93" width="2" height="6.60" fill="#b9b7e2"/>
<rect x="354" y="344.53" width="2" height="82.87" fill="#e3e1f1"/>
<rect x="356" y="276.80" width="2" height="1.74" fill="#2b1852"/>
<rect x="356" y="278.54" width="2" height="1.16" fill="#2a4b8a"/>
<rect x="356" y="279.70" width="2" height="58.93" fill="#3d6ec0"/>
<rect x="356" y="338.63" width="2" height="36.06" fill="#8b8bcc"/>
<rect x="356" y="374.69" width="2" height="20.08" fill="#b9b7e2"/>
<rect x="356" y="394.77" width="2" height="32.63" fill="#e3e1f1"/>
<rect x="358" y="276.80" width="2" height="1.47" fill="#2b1852"/>
<rect x="358" y="278.40" width="2" height="1.83" fill="#3d6ec0"/>
<rect x="358" y="280.23" width="2" height="129.10" fill="#8b8bcc"/>
<rect x="358" y="409.33" width="2" height="14.42" fill="#b9b7e2"/>
<rect x="358" y="423.75" width="2" height="3.65" fill="#e3e1f1"/>
<rect x="360" y="276.80" width="2" height="0.76" fill="#2b1852"/>
<rect x="360" y="277.56" width="2" height="0.45" fill="#2a4b8a"/>
<rect x="360" y="278.02" width="2" height="12.92" fill="#3d6ec0"/>
<rect x="360" y="290.94" width="2" height="113.87" fill="#8b8bcc"/>
<rect x="360" y="404.81" width="2" height="17.91" fill="#b9b7e2"/>
<rect x="360" y="422.72" width="2" height="4.68" fill="#e3e1f1"/>
<rect x="362" y="276.80" width="2" height="1.63" fill="#2b1852"/>
<rect x="362" y="278.43" width="2" height="1.14" fill="#2a4b8a"/>
<rect x="362" y="279.57" width="2" height="48.38" fill="#3d6ec0"/>
<rect x="362" y="327.95" width="2" height="12.37" fill="#8b8bcc"/>
<rect x="362" y="340.33" width="2" height="5.96" fill="#b9b7e2"/>
<rect x="362" y="346.29" width="2" height="81.11" fill="#e3e1f1"/>
<rect x="364" y="276.80" width="2" height="4.90" fill="#2b1852"/>
<rect x="364" y="281.70" width="2" height="10.14" fill="#2a4b8a"/>
<rect x="364" y="291.84" width="2" height="34.03" fill="#3d6ec0"/>
<rect x="364" y="325.87" width="2" height="19.28" fill="#8b8bcc"/>
<rect x="364" y="345.15" width="2" height="8.90" fill="#b9b7e2"/>
<rect x="364" y="354.06" width="2" height="73.34" fill="#e3e1f1"/>
<rect x="366" y="276.80" width="2" height="2.57" fill="#2b1852"/>
<rect x="366" y="279.37" width="2" height="8.22" fill="#2a4b8a"/>
<rect x="366" y="287.59" width="2" height="123.64" fill="#3d6ec0"/>
<rect x="366" y="411.23" width="2" height="0.43" fill="#8b8bcc"/>
<rect x="366" y="411.66" width="2" height="0.21" fill="#b9b7e2"/>
<rect x="366" y="411.87" width="2" height="15.53" fill="#e3e1f1"/>
<rect x="368" y="276.80" width="2" height="1.10" fill="#2b1852"/>
<rect x="368" y="277.90" width="2" height="0.38" fill="#2a4b8a"/>
<rect x="368" y="278.28" width="2" height="126.83" fill="#3d6ec0"/>
<rect x="368" y="405.11" width="2" height="8.33" fill="#8b8bcc"/>
<rect x="368" y="413.44" width="2" height="7.34" fill="#b9b7e2"/>
<rect x="368" y="420.78" width="2" height="6.62" fill="#e3e1f1"/>
<rect x="370" y="276.80" width="2" height="1.01" fill="#2b1852"/>
<rect x="370" y="277.81" width="2" height="0.87" fill="#2a4b8a"/>
<rect x="370" y="278.68" width="2" height="24.28" fill="#3d6ec0"/>
<rect x="370" y="302.96" width="2" height="22.03" fill="#8b8bcc"/>
<rect x="370" y="324.99" width="2" height="23.07" fill="#b9b7e2"/>
<rect x="370" y="348.06" width="2" height="79.34" fill="#e3e1f1"/>
<rect x="372" y="276.80" width="2" height="0.96" fill="#2b1852"/>
<rect x="372" y="277.76" width="2" height="0.72" fill="#2a4b8a"/>
<rect x="372" y="278.48" width="2" height="38.52" fill="#3d6ec0"/>
<rect x="372" y="316.99" width="2" height="12.85" fill="#8b8bcc"/>
<rect x="372" y="329.84" width="2" height="8.43" fill="#b9b7e2"/>
<rect x="372" y="338.26" width="2" height="89.14" fill="#e3e1f1"/>
<rect x="374" y="276.80" width="2" height="0.98" fill="#2b1852"/>
<rect x="374" y="277.78" width="2" height="1.01" fill="#2a4b8a"/>
<rect x="374" y="278.79" width="2" height="65.86" fill="#3d6ec0"/>
<rect x="374" y="344.65" width="2" height="14.78" fill="#8b8bcc"/>
<rect x="374" y="359.43" width="2" height="9.95" fill="#b9b7e2"/>
<rect x="374" y="369.38" width="2" height="58.02" fill="#e3e1f1"/>
<rect x="376" y="276.80" width="2" height="10.62" fill="#2b1852"/>
<rect x="376" y="287.42" width="2" height="34.14" fill="#2a4b8a"/>
<rect x="376" y="321.56" width="2" height="50.60" fill="#3d6ec0"/>
<rect x="376" y="372.16" width="2" height="17.59" fill="#8b8bcc"/>
<rect x="376" y="389.75" width="2" height="13.01" fill="#b9b7e2"/>
<rect x="376" y="402.76" width="2" height="24.64" fill="#e3e1f1"/>
<rect x="378" y="276.80" width="2" height="23.92" fill="#2b1852"/>
<rect x="378" y="300.72" width="2" height="73.97" fill="#2a4b8a"/>
<rect x="378" y="374.69" width="2" height="4.84" fill="#3d6ec0"/>
<rect x="378" y="379.53" width="2" height="6.32" fill="#8b8bcc"/>
<rect x="378" y="385.85" width="2" height="13.27" fill="#b9b7e2"/>
<rect x="378" y="399.12" width="2" height="28.28" fill="#e3e1f1"/>
<rect x="380" y="276.80" width="2" height="20.48" fill="#2b1852"/>
<rect x="380" y="297.28" width="2" height="44.33" fill="#2a4b8a"/>
<rect x="380" y="341.61" width="2" height="38.78" fill="#3d6ec0"/>
<rect x="380" y="380.39" width="2" height="8.49" fill="#8b8bcc"/>
<rect x="380" y="388.88" width="2" height="14.16" fill="#b9b7e2"/>
<rect x="380" y="403.04" width="2" height="24.36" fill="#e3e1f1"/>
<rect x="382" y="276.80" width="2" height="9.38" fill="#2b1852"/>
<rect x="382" y="286.18" width="2" height="23.71" fill="#2a4b8a"/>
<rect x="382" y="309.90" width="2" height="41.18" fill="#3d6ec0"/>
<rect x="382" y="351.07" width="2" height="12.74" fill="#8b8bcc"/>
<rect x="382" y="363.81" width="2" height="13.84" fill="#b9b7e2"/>
<rect x="382" y="377.65" width="2" height="49.75" fill="#e3e1f1"/>
<rect x="384" y="276.80" width="2" height="0.99" fill="#2b1852"/>
<rect x="384" y="277.79" width="2" height="0.71" fill="#2a4b8a"/>
<rect x="384" y="278.50" width="2" height="37.94" fill="#3d6ec0"/>
<rect x="384" y="316.44" width="2" height="23.52" fill="#8b8bcc"/>
<rect x="384" y="339.96" width="2" height="10.48" fill="#b9b7e2"/>
<rect x="384" y="350.44" width="2" height="76.96" fill="#e3e1f1"/>
<rect x="386" y="276.80" width="2" height="1.38" fill="#2b1852"/>
<rect x="386" y="278.33" width="2" height="52.65" fill="#3d6ec0"/>
<rect x="386" y="330.98" width="2" height="27.97" fill="#8b8bcc"/>
<rect x="386" y="358.95" width="2" height="12.60" fill="#b9b7e2"/>
<rect x="386" y="371.55" width="2" height="55.85" fill="#e3e1f1"/>
<rect x="388" y="276.80" width="2" height="1.07" fill="#2b1852"/>
<rect x="388" y="277.87" width="2" height="1.76" fill="#2a4b8a"/>
<rect x="388" y="279.63" width="2" height="62.77" fill="#3d6ec0"/>
<rect x="388" y="342.40" width="2" height="7.00" fill="#8b8bcc"/>
<rect x="388" y="349.40" width="2" height="16.00" fill="#b9b7e2"/>
<rect x="388" y="365.40" width="2" height="62.00" fill="#e3e1f1"/>
<rect x="390" y="276.80" width="2" height="1.69" fill="#2b1852"/>
<rect x="390" y="278.49" width="2" height="1.55" fill="#2a4b8a"/>
<rect x="390" y="280.04" width="2" height="28.82" fill="#3d6ec0"/>
<rect x="390" y="308.86" width="2" height="9.22" fill="#8b8bcc"/>
<rect x="390" y="318.08" width="2" height="17.13" fill="#b9b7e2"/>
<rect x="390" y="335.22" width="2" height="92.18" fill="#e3e1f1"/>
<rect x="392" y="276.80" width="2" height="5.73" fill="#2b1852"/>
<rect x="392" y="282.53" width="2" height="15.55" fill="#2a4b8a"/>
<rect x="392" y="298.08" width="2" height="88.90" fill="#3d6ec0"/>
<rect x="392" y="386.98" width="2" height="5.78" fill="#8b8bcc"/>
<rect x="392" y="392.76" width="2" height="10.68" fill="#b9b7e2"/>
<rect x="392" y="403.44" width="2" height="23.96" fill="#e3e1f1"/>
<rect x="394" y="276.80" width="2" height="6.52" fill="#2b1852"/>
<rect x="394" y="283.32" width="2" height="14.78" fill="#2a4b8a"/>
<rect x="394" y="298.10" width="2" height="97.03" fill="#3d6ec0"/>
<rect x="394" y="395.13" width="2" height="7.74" fill="#8b8bcc"/>
<rect x="394" y="402.87" width="2" height="12.19" fill="#b9b7e2"/>
<rect x="394" y="415.06" width="2" height="12.34" fill="#e3e1f1"/>
<rect x="396" y="276.80" width="2" height="1.70" fill="#2b1852"/>
<rect x="396" y="278.63" width="2" height="23.48" fill="#3d6ec0"/>
<rect x="396" y="302.12" width="2" height="17.25" fill="#8b8bcc"/>
<rect x="396" y="319.37" width="2" height="10.98" fill="#b9b7e2"/>
<rect x="396" y="330.35" width="2" height="97.05" fill="#e3e1f1"/>
<rect x="398" y="276.80" width="2" height="1.06" fill="#2b1852"/>
<rect x="398" y="277.86" width="2" height="1.00" fill="#2a4b8a"/>
<rect x="398" y="278.86" width="2" height="35.30" fill="#3d6ec0"/>
<rect x="398" y="314.16" width="2" height="16.16" fill="#8b8bcc"/>
<rect x="398" y="330.32" width="2" height="13.01" fill="#b9b7e2"/>
<rect x="398" y="343.33" width="2" height="84.07" fill="#e3e1f1"/>
<rect x="400" y="276.80" width="2" height="7.03" fill="#2b1852"/>
<rect x="400" y="283.83" width="2" height="23.00" fill="#2a4b8a"/>
<rect x="400" y="306.83" width="2" height="43.77" fill="#3d6ec0"/>
<rect x="400" y="350.59" width="2" height="13.57" fill="#8b8bcc"/>
<rect x="400" y="364.17" width="2" height="13.74" fill="#b9b7e2"/>
<rect x="400" y="377.91" width="2" height="49.49" fill="#e3e1f1"/>
<rect x="402" y="276.80" width="2" height="29.21" fill="#2b1852"/>
<rect x="402" y="306.01" width="2" height="91.27" fill="#2a4b8a"/>
<rect x="402" y="397.28" width="2" height="17.21" fill="#3d6ec0"/>
<rect x="402" y="414.49" width="2" height="12.91" fill="#e3e1f1"/>
<rect x="404" y="276.80" width="2" height="17.83" fill="#2b1852"/>
<rect x="404" y="294.63" width="2" height="87.59" fill="#2a4b8a"/>
<rect x="404" y="382.22" width="2" height="28.62" fill="#3d6ec0"/>
<rect x="404" y="410.84" width="2" height="10.41" fill="#8b8bcc"/>
<rect x="404" y="421.25" width="2" height="6.15" fill="#b9b7e2"/>
<rect x="406" y="276.80" width="2" height="1.73" fill="#2b1852"/>
<rect x="406" y="278.53" width="2" height="0.82" fill="#2a4b8a"/>
<rect x="406" y="279.35" width="2" height="46.73" fill="#3d6ec0"/>
<rect x="406" y="326.08" width="2" height="15.34" fill="#8b8bcc"/>
<rect x="406" y="341.42" width="2" height="6.64" fill="#b9b7e2"/>
<rect x="406" y="348.07" width="2" height="79.33" fill="#e3e1f1"/>
<rect x="408" y="276.80" width="2" height="0.69" fill="#2b1852"/>
<rect x="408" y="277.49" width="2" height="0.49" fill="#2a4b8a"/>
<rect x="408" y="277.98" width="2" height="11.61" fill="#3d6ec0"/>
<rect x="408" y="289.59" width="2" height="92.63" fill="#8b8bcc"/>
<rect x="408" y="382.22" width="2" height="18.64" fill="#b9b7e2"/>
<rect x="408" y="400.86" width="2" height="26.54" fill="#e3e1f1"/>
<rect x="410" y="276.80" width="2" height="1.07" fill="#2b1852"/>
<rect x="410" y="277.87" width="2" height="1.38" fill="#2a4b8a"/>
<rect x="410" y="279.25" width="2" height="98.27" fill="#3d6ec0"/>
<rect x="410" y="377.52" width="2" height="45.36" fill="#8b8bcc"/>
<rect x="410" y="422.88" width="2" height="4.52" fill="#b9b7e2"/>
<rect x="412" y="276.80" width="2" height="0.90" fill="#2b1852"/>
<rect x="412" y="277.70" width="2" height="1.13" fill="#2a4b8a"/>
<rect x="412" y="278.84" width="2" height="81.75" fill="#3d6ec0"/>
<rect x="412" y="360.59" width="2" height="14.30" fill="#8b8bcc"/>
<rect x="412" y="374.89" width="2" height="20.44" fill="#b9b7e2"/>
<rect x="412" y="395.33" width="2" height="32.07" fill="#e3e1f1"/>
<rect x="414" y="276.80" width="2" height="19.92" fill="#2b1852"/>
<rect x="414" y="296.72" width="2" height="55.38" fill="#2a4b8a"/>
<rect x="414" y="352.10" width="2" height="68.83" fill="#3d6ec0"/>
<rect x="414" y="420.93" width="2" height="1.99" fill="#8b8bcc"/>
<rect x="414" y="422.91" width="2" height="2.30" fill="#b9b7e2"/>
<rect x="414" y="425.21" width="2" height="2.19" fill="#e3e1f1"/>
<rect x="416" y="276.80" width="2" height="20.41" fill="#2b1852"/>
<rect x="416" y="297.21" width="2" height="25.23" fill="#2a4b8a"/>
<rect x="416" y="322.45" width="2" height="96.13" fill="#3d6ec0"/>
<rect x="416" y="418.57" width="2" height="1.23" fill="#8b8bcc"/>
<rect x="416" y="419.80" width="2" height="2.49" fill="#b9b7e2"/>
<rect x="416" y="422.30" width="2" height="5.10" fill="#e3e1f1"/>
<rect x="418" y="276.80" width="3" height="0.93" fill="#2b1852"/>
<rect x="418" y="277.73" width="3" height="1.13" fill="#2a4b8a"/>
<rect x="418" y="278.86" width="3" height="36.70" fill="#3d6ec0"/>
<rect x="418" y="315.56" width="3" height="13.46" fill="#8b8bcc"/>
<rect x="418" y="329.02" width="3" height="15.65" fill="#b9b7e2"/>
<rect x="418" y="344.68" width="3" height="82.72" fill="#e3e1f1"/>
<text x="469.0" y="268.2" font-size="9.2" text-anchor="middle" fill="#1a1a1a" font-weight="normal" dominant-baseline="central" stroke="#1a1a1a" stroke-width="0.05">Month 12</text>
<rect x="425" y="276.80" width="2" height="10.84" fill="#2b1852"/>
<rect x="425" y="287.64" width="2" height="24.50" fill="#2a4b8a"/>
<rect x="425" y="312.14" width="2" height="67.96" fill="#3d6ec0"/>
<rect x="425" y="380.10" width="2" height="32.24" fill="#8b8bcc"/>
<rect x="425" y="412.34" width="2" height="13.85" fill="#b9b7e2"/>
<rect x="425" y="426.19" width="2" height="1.21" fill="#e3e1f1"/>
<rect x="427" y="276.80" width="2" height="12.76" fill="#2b1852"/>
<rect x="427" y="289.56" width="2" height="21.99" fill="#2a4b8a"/>
<rect x="427" y="311.54" width="2" height="34.20" fill="#3d6ec0"/>
<rect x="427" y="345.74" width="2" height="14.55" fill="#8b8bcc"/>
<rect x="427" y="360.29" width="2" height="9.38" fill="#b9b7e2"/>
<rect x="427" y="369.67" width="2" height="57.73" fill="#e3e1f1"/>
<rect x="429" y="276.80" width="2" height="2.88" fill="#2b1852"/>
<rect x="429" y="279.68" width="2" height="10.64" fill="#2a4b8a"/>
<rect x="429" y="290.32" width="2" height="28.41" fill="#3d6ec0"/>
<rect x="429" y="318.73" width="2" height="8.44" fill="#8b8bcc"/>
<rect x="429" y="327.18" width="2" height="11.90" fill="#b9b7e2"/>
<rect x="429" y="339.08" width="2" height="88.32" fill="#e3e1f1"/>
<rect x="431" y="276.80" width="2" height="0.83" fill="#2b1852"/>
<rect x="431" y="277.63" width="2" height="0.69" fill="#2a4b8a"/>
<rect x="431" y="278.32" width="2" height="43.27" fill="#3d6ec0"/>
<rect x="431" y="321.59" width="2" height="12.30" fill="#8b8bcc"/>
<rect x="431" y="333.88" width="2" height="26.02" fill="#b9b7e2"/>
<rect x="431" y="359.90" width="2" height="67.50" fill="#e3e1f1"/>
<rect x="433" y="276.80" width="2" height="18.71" fill="#2b1852"/>
<rect x="433" y="295.51" width="2" height="29.12" fill="#2a4b8a"/>
<rect x="433" y="324.64" width="2" height="57.83" fill="#3d6ec0"/>
<rect x="433" y="382.47" width="2" height="4.27" fill="#8b8bcc"/>
<rect x="433" y="386.74" width="2" height="14.45" fill="#b9b7e2"/>
<rect x="433" y="401.19" width="2" height="26.21" fill="#e3e1f1"/>
<rect x="435" y="276.80" width="2" height="13.43" fill="#2b1852"/>
<rect x="435" y="290.23" width="2" height="34.65" fill="#2a4b8a"/>
<rect x="435" y="324.88" width="2" height="70.01" fill="#3d6ec0"/>
<rect x="435" y="394.89" width="2" height="15.97" fill="#8b8bcc"/>
<rect x="435" y="410.86" width="2" height="7.46" fill="#b9b7e2"/>
<rect x="435" y="418.32" width="2" height="9.08" fill="#e3e1f1"/>
<rect x="437" y="276.80" width="2" height="6.03" fill="#2b1852"/>
<rect x="437" y="282.83" width="2" height="16.07" fill="#2a4b8a"/>
<rect x="437" y="298.91" width="2" height="126.92" fill="#3d6ec0"/>
<rect x="437" y="425.83" width="2" height="1.57" fill="#e3e1f1"/>
<rect x="439" y="276.80" width="2" height="8.94" fill="#2b1852"/>
<rect x="439" y="285.74" width="2" height="12.24" fill="#2a4b8a"/>
<rect x="439" y="297.98" width="2" height="127.90" fill="#3d6ec0"/>
<rect x="439" y="425.88" width="2" height="1.52" fill="#e3e1f1"/>
<rect x="441" y="276.80" width="2" height="10.44" fill="#2b1852"/>
<rect x="441" y="287.24" width="2" height="25.42" fill="#2a4b8a"/>
<rect x="441" y="312.66" width="2" height="63.62" fill="#3d6ec0"/>
<rect x="441" y="376.29" width="2" height="16.07" fill="#8b8bcc"/>
<rect x="441" y="392.36" width="2" height="17.54" fill="#b9b7e2"/>
<rect x="441" y="409.90" width="2" height="17.50" fill="#e3e1f1"/>
<rect x="443" y="276.80" width="2" height="7.87" fill="#2b1852"/>
<rect x="443" y="284.67" width="2" height="26.62" fill="#2a4b8a"/>
<rect x="443" y="311.28" width="2" height="53.44" fill="#3d6ec0"/>
<rect x="443" y="364.72" width="2" height="12.98" fill="#8b8bcc"/>
<rect x="443" y="377.70" width="2" height="16.71" fill="#b9b7e2"/>
<rect x="443" y="394.42" width="2" height="32.98" fill="#e3e1f1"/>
<rect x="445" y="276.80" width="2" height="0.86" fill="#2b1852"/>
<rect x="445" y="277.81" width="2" height="42.22" fill="#3d6ec0"/>
<rect x="445" y="320.03" width="2" height="36.50" fill="#8b8bcc"/>
<rect x="445" y="356.53" width="2" height="21.49" fill="#b9b7e2"/>
<rect x="445" y="378.02" width="2" height="49.38" fill="#e3e1f1"/>
<rect x="447" y="276.80" width="2" height="9.91" fill="#2b1852"/>
<rect x="447" y="286.71" width="2" height="21.59" fill="#2a4b8a"/>
<rect x="447" y="308.30" width="2" height="76.69" fill="#3d6ec0"/>
<rect x="447" y="384.98" width="2" height="9.33" fill="#8b8bcc"/>
<rect x="447" y="394.31" width="2" height="8.98" fill="#b9b7e2"/>
<rect x="447" y="403.29" width="2" height="24.11" fill="#e3e1f1"/>
<rect x="449" y="276.80" width="2" height="12.50" fill="#2b1852"/>
<rect x="449" y="289.30" width="2" height="24.77" fill="#2a4b8a"/>
<rect x="449" y="314.07" width="2" height="73.16" fill="#3d6ec0"/>
<rect x="449" y="387.23" width="2" height="15.72" fill="#8b8bcc"/>
<rect x="449" y="402.94" width="2" height="7.62" fill="#b9b7e2"/>
<rect x="449" y="410.57" width="2" height="16.83" fill="#e3e1f1"/>
<rect x="451" y="276.80" width="2" height="10.98" fill="#2b1852"/>
<rect x="451" y="287.78" width="2" height="20.08" fill="#2a4b8a"/>
<rect x="451" y="307.86" width="2" height="65.88" fill="#3d6ec0"/>
<rect x="451" y="373.74" width="2" height="9.72" fill="#8b8bcc"/>
<rect x="451" y="383.46" width="2" height="10.95" fill="#b9b7e2"/>
<rect x="451" y="394.41" width="2" height="32.99" fill="#e3e1f1"/>
<rect x="453" y="276.80" width="2" height="0.67" fill="#2b1852"/>
<rect x="453" y="277.47" width="2" height="0.23" fill="#2a4b8a"/>
<rect x="453" y="277.70" width="2" height="42.62" fill="#3d6ec0"/>
<rect x="453" y="320.32" width="2" height="10.36" fill="#8b8bcc"/>
<rect x="453" y="330.68" width="2" height="10.49" fill="#b9b7e2"/>
<rect x="453" y="341.17" width="2" height="86.23" fill="#e3e1f1"/>
<rect x="455" y="276.80" width="2" height="1.10" fill="#2b1852"/>
<rect x="455" y="277.90" width="2" height="1.55" fill="#2a4b8a"/>
<rect x="455" y="279.45" width="2" height="15.38" fill="#3d6ec0"/>
<rect x="455" y="294.83" width="2" height="76.85" fill="#8b8bcc"/>
<rect x="455" y="371.68" width="2" height="11.70" fill="#b9b7e2"/>
<rect x="455" y="383.37" width="2" height="44.03" fill="#e3e1f1"/>
<rect x="457" y="276.80" width="2" height="0.79" fill="#2b1852"/>
<rect x="457" y="277.59" width="2" height="1.43" fill="#2a4b8a"/>
<rect x="457" y="279.03" width="2" height="73.80" fill="#3d6ec0"/>
<rect x="457" y="352.82" width="2" height="13.55" fill="#8b8bcc"/>
<rect x="457" y="366.37" width="2" height="16.39" fill="#b9b7e2"/>
<rect x="457" y="382.77" width="2" height="44.63" fill="#e3e1f1"/>
<rect x="459" y="276.80" width="2" height="1.42" fill="#2b1852"/>
<rect x="459" y="278.22" width="2" height="1.06" fill="#2a4b8a"/>
<rect x="459" y="279.28" width="2" height="128.41" fill="#3d6ec0"/>
<rect x="459" y="407.69" width="2" height="4.65" fill="#8b8bcc"/>
<rect x="459" y="412.34" width="2" height="14.78" fill="#b9b7e2"/>
<rect x="459" y="427.12" width="2" height="0.28" fill="#e3e1f1"/>
<rect x="461" y="276.80" width="2" height="7.33" fill="#2b1852"/>
<rect x="461" y="284.13" width="2" height="20.22" fill="#2a4b8a"/>
<rect x="461" y="304.35" width="2" height="89.86" fill="#3d6ec0"/>
<rect x="461" y="394.21" width="2" height="11.14" fill="#8b8bcc"/>
<rect x="461" y="405.35" width="2" height="6.10" fill="#b9b7e2"/>
<rect x="461" y="411.45" width="2" height="15.95" fill="#e3e1f1"/>
<rect x="463" y="276.80" width="2" height="6.46" fill="#2b1852"/>
<rect x="463" y="283.26" width="2" height="17.35" fill="#2a4b8a"/>
<rect x="463" y="300.61" width="2" height="17.71" fill="#3d6ec0"/>
<rect x="463" y="318.32" width="2" height="11.26" fill="#8b8bcc"/>
<rect x="463" y="329.58" width="2" height="14.18" fill="#b9b7e2"/>
<rect x="463" y="343.76" width="2" height="83.64" fill="#e3e1f1"/>
<rect x="465" y="276.80" width="2" height="1.39" fill="#2b1852"/>
<rect x="465" y="278.19" width="2" height="1.42" fill="#2a4b8a"/>
<rect x="465" y="279.61" width="2" height="23.78" fill="#3d6ec0"/>
<rect x="465" y="303.38" width="2" height="10.73" fill="#8b8bcc"/>
<rect x="465" y="314.11" width="2" height="16.13" fill="#b9b7e2"/>
<rect x="465" y="330.24" width="2" height="97.16" fill="#e3e1f1"/>
<rect x="467" y="276.80" width="2" height="16.05" fill="#2b1852"/>
<rect x="467" y="292.85" width="2" height="21.75" fill="#2a4b8a"/>
<rect x="467" y="314.60" width="2" height="36.56" fill="#3d6ec0"/>
<rect x="467" y="351.16" width="2" height="16.78" fill="#8b8bcc"/>
<rect x="467" y="367.94" width="2" height="7.52" fill="#b9b7e2"/>
<rect x="467" y="375.46" width="2" height="51.94" fill="#e3e1f1"/>
<rect x="469" y="276.80" width="2" height="10.80" fill="#2b1852"/>
<rect x="469" y="287.60" width="2" height="27.94" fill="#2a4b8a"/>
<rect x="469" y="315.54" width="2" height="65.71" fill="#3d6ec0"/>
<rect x="469" y="381.25" width="2" height="8.50" fill="#8b8bcc"/>
<rect x="469" y="389.75" width="2" height="9.99" fill="#b9b7e2"/>
<rect x="469" y="399.74" width="2" height="27.66" fill="#e3e1f1"/>
<rect x="471" y="276.80" width="2" height="1.34" fill="#2b1852"/>
<rect x="471" y="278.14" width="2" height="0.47" fill="#2a4b8a"/>
<rect x="471" y="278.62" width="2" height="95.51" fill="#3d6ec0"/>
<rect x="471" y="374.13" width="2" height="15.62" fill="#8b8bcc"/>
<rect x="471" y="389.75" width="2" height="13.86" fill="#b9b7e2"/>
<rect x="471" y="403.61" width="2" height="23.79" fill="#e3e1f1"/>
<rect x="473" y="276.80" width="2" height="1.25" fill="#2b1852"/>
<rect x="473" y="278.11" width="2" height="37.48" fill="#3d6ec0"/>
<rect x="473" y="315.59" width="2" height="36.51" fill="#8b8bcc"/>
<rect x="473" y="352.10" width="2" height="15.30" fill="#b9b7e2"/>
<rect x="473" y="367.40" width="2" height="60.00" fill="#e3e1f1"/>
<rect x="475" y="276.80" width="2" height="17.74" fill="#2b1852"/>
<rect x="475" y="294.54" width="2" height="30.81" fill="#2a4b8a"/>
<rect x="475" y="325.35" width="2" height="14.35" fill="#3d6ec0"/>
<rect x="475" y="339.69" width="2" height="15.12" fill="#8b8bcc"/>
<rect x="475" y="354.81" width="2" height="17.72" fill="#b9b7e2"/>
<rect x="475" y="372.53" width="2" height="54.87" fill="#e3e1f1"/>
<rect x="477" y="276.80" width="2" height="12.21" fill="#2b1852"/>
<rect x="477" y="289.01" width="2" height="28.06" fill="#2a4b8a"/>
<rect x="477" y="317.07" width="2" height="35.29" fill="#3d6ec0"/>
<rect x="477" y="352.36" width="2" height="19.32" fill="#8b8bcc"/>
<rect x="477" y="371.68" width="2" height="11.82" fill="#b9b7e2"/>
<rect x="477" y="383.50" width="2" height="43.90" fill="#e3e1f1"/>
<rect x="479" y="276.80" width="2" height="1.70" fill="#2b1852"/>
<rect x="479" y="278.50" width="2" height="0.85" fill="#2a4b8a"/>
<rect x="479" y="279.34" width="2" height="60.51" fill="#3d6ec0"/>
<rect x="479" y="339.85" width="2" height="27.31" fill="#8b8bcc"/>
<rect x="479" y="367.16" width="2" height="14.59" fill="#b9b7e2"/>
<rect x="479" y="381.75" width="2" height="45.65" fill="#e3e1f1"/>
<rect x="481" y="276.80" width="2" height="0.79" fill="#2b1852"/>
<rect x="481" y="277.59" width="2" height="0.92" fill="#2a4b8a"/>
<rect x="481" y="278.51" width="2" height="74.64" fill="#3d6ec0"/>
<rect x="481" y="353.16" width="2" height="12.69" fill="#8b8bcc"/>
<rect x="481" y="365.85" width="2" height="12.95" fill="#b9b7e2"/>
<rect x="481" y="378.79" width="2" height="48.61" fill="#e3e1f1"/>
<rect x="483" y="276.80" width="2" height="1.08" fill="#2b1852"/>
<rect x="483" y="277.88" width="2" height="0.19" fill="#2a4b8a"/>
<rect x="483" y="278.07" width="2" height="79.31" fill="#3d6ec0"/>
<rect x="483" y="357.39" width="2" height="24.83" fill="#8b8bcc"/>
<rect x="483" y="382.22" width="2" height="14.42" fill="#b9b7e2"/>
<rect x="483" y="396.64" width="2" height="30.76" fill="#e3e1f1"/>
<rect x="485" y="276.80" width="2" height="10.72" fill="#2b1852"/>
<rect x="485" y="287.52" width="2" height="24.35" fill="#2a4b8a"/>
<rect x="485" y="311.87" width="2" height="23.47" fill="#3d6ec0"/>
<rect x="485" y="335.34" width="2" height="46.88" fill="#8b8bcc"/>
<rect x="485" y="382.22" width="2" height="18.99" fill="#b9b7e2"/>
<rect x="485" y="401.21" width="2" height="26.19" fill="#e3e1f1"/>
<rect x="487" y="276.80" width="2" height="12.71" fill="#2b1852"/>
<rect x="487" y="289.51" width="2" height="23.13" fill="#2a4b8a"/>
<rect x="487" y="312.64" width="2" height="52.69" fill="#3d6ec0"/>
<rect x="487" y="365.33" width="2" height="16.89" fill="#8b8bcc"/>
<rect x="487" y="382.22" width="2" height="17.31" fill="#b9b7e2"/>
<rect x="487" y="399.53" width="2" height="27.87" fill="#e3e1f1"/>
<rect x="489" y="276.80" width="2" height="1.13" fill="#2b1852"/>
<rect x="489" y="277.93" width="2" height="0.39" fill="#2a4b8a"/>
<rect x="489" y="278.32" width="2" height="68.88" fill="#3d6ec0"/>
<rect x="489" y="347.19" width="2" height="27.50" fill="#8b8bcc"/>
<rect x="489" y="374.69" width="2" height="17.33" fill="#b9b7e2"/>
<rect x="489" y="392.02" width="2" height="35.38" fill="#e3e1f1"/>
<rect x="491" y="276.80" width="2" height="8.52" fill="#2b1852"/>
<rect x="491" y="285.32" width="2" height="11.06" fill="#2a4b8a"/>
<rect x="491" y="296.38" width="2" height="2.39" fill="#3d6ec0"/>
<rect x="491" y="298.76" width="2" height="9.11" fill="#8b8bcc"/>
<rect x="491" y="307.88" width="2" height="14.27" fill="#b9b7e2"/>
<rect x="491" y="322.15" width="2" height="105.25" fill="#e3e1f1"/>
<rect x="493" y="276.80" width="2" height="18.23" fill="#2b1852"/>
<rect x="493" y="295.03" width="2" height="28.55" fill="#2a4b8a"/>
<rect x="493" y="323.57" width="2" height="10.60" fill="#3d6ec0"/>
<rect x="493" y="334.18" width="2" height="13.39" fill="#8b8bcc"/>
<rect x="493" y="347.57" width="2" height="24.77" fill="#b9b7e2"/>
<rect x="493" y="372.34" width="2" height="55.06" fill="#e3e1f1"/>
<rect x="495" y="276.80" width="2" height="15.79" fill="#2b1852"/>
<rect x="495" y="292.59" width="2" height="32.56" fill="#2a4b8a"/>
<rect x="495" y="325.15" width="2" height="17.10" fill="#3d6ec0"/>
<rect x="495" y="342.25" width="2" height="16.09" fill="#8b8bcc"/>
<rect x="495" y="358.33" width="2" height="12.55" fill="#b9b7e2"/>
<rect x="495" y="370.89" width="2" height="56.51" fill="#e3e1f1"/>
<rect x="497" y="276.80" width="2" height="32.58" fill="#2b1852"/>
<rect x="497" y="309.38" width="2" height="102.96" fill="#2a4b8a"/>
<rect x="497" y="412.34" width="2" height="8.39" fill="#3d6ec0"/>
<rect x="497" y="420.73" width="2" height="0.44" fill="#8b8bcc"/>
<rect x="497" y="421.18" width="2" height="0.52" fill="#b9b7e2"/>
<rect x="497" y="421.69" width="2" height="5.71" fill="#e3e1f1"/>
<rect x="499" y="276.80" width="2" height="10.26" fill="#2b1852"/>
<rect x="499" y="287.06" width="2" height="80.10" fill="#2a4b8a"/>
<rect x="499" y="367.16" width="2" height="17.05" fill="#3d6ec0"/>
<rect x="499" y="384.21" width="2" height="9.76" fill="#8b8bcc"/>
<rect x="499" y="393.97" width="2" height="7.49" fill="#b9b7e2"/>
<rect x="499" y="401.47" width="2" height="25.93" fill="#e3e1f1"/>
<rect x="501" y="276.80" width="2" height="12.83" fill="#2b1852"/>
<rect x="501" y="289.63" width="2" height="25.26" fill="#2a4b8a"/>
<rect x="501" y="314.90" width="2" height="98.97" fill="#3d6ec0"/>
<rect x="501" y="413.87" width="2" height="1.36" fill="#8b8bcc"/>
<rect x="501" y="415.23" width="2" height="2.65" fill="#b9b7e2"/>
<rect x="501" y="417.88" width="2" height="9.52" fill="#e3e1f1"/>
<rect x="503" y="276.80" width="2" height="11.37" fill="#2b1852"/>
<rect x="503" y="288.17" width="2" height="27.30" fill="#2a4b8a"/>
<rect x="503" y="315.46" width="2" height="95.39" fill="#3d6ec0"/>
<rect x="503" y="410.85" width="2" height="5.41" fill="#8b8bcc"/>
<rect x="503" y="416.27" width="2" height="11.13" fill="#b9b7e2"/>
<rect x="505" y="276.80" width="2" height="1.28" fill="#2b1852"/>
<rect x="505" y="278.08" width="2" height="0.62" fill="#2a4b8a"/>
<rect x="505" y="278.70" width="2" height="14.14" fill="#8b8bcc"/>
<rect x="505" y="292.83" width="2" height="18.48" fill="#b9b7e2"/>
<rect x="505" y="311.31" width="2" height="116.09" fill="#e3e1f1"/>
<rect x="507" y="276.80" width="2" height="1.08" fill="#2b1852"/>
<rect x="507" y="277.88" width="2" height="0.35" fill="#2a4b8a"/>
<rect x="507" y="278.23" width="2" height="15.55" fill="#3d6ec0"/>
<rect x="507" y="293.78" width="2" height="15.28" fill="#8b8bcc"/>
<rect x="507" y="309.07" width="2" height="12.97" fill="#b9b7e2"/>
<rect x="507" y="322.04" width="2" height="105.36" fill="#e3e1f1"/>
<rect x="509" y="276.80" width="2" height="5.14" fill="#2b1852"/>
<rect x="509" y="281.94" width="2" height="6.95" fill="#2a4b8a"/>
<rect x="509" y="288.90" width="2" height="82.81" fill="#3d6ec0"/>
<rect x="509" y="371.71" width="2" height="7.55" fill="#8b8bcc"/>
<rect x="509" y="379.25" width="2" height="14.24" fill="#b9b7e2"/>
<rect x="509" y="393.50" width="2" height="33.90" fill="#e3e1f1"/>
<rect x="511" y="276.80" width="3" height="1.16" fill="#2b1852"/>
<rect x="511" y="277.96" width="3" height="0.75" fill="#2a4b8a"/>
<rect x="511" y="278.71" width="3" height="80.66" fill="#3d6ec0"/>
<rect x="511" y="359.37" width="3" height="15.35" fill="#8b8bcc"/>
<rect x="511" y="374.72" width="3" height="8.69" fill="#b9b7e2"/>
<rect x="511" y="383.41" width="3" height="43.99" fill="#e3e1f1"/>
<line x1="52.5" y1="273.8" x2="52.5" y2="427.9" stroke="#1a1a1a" stroke-width="1.2"/>
<line x1="52.0" y1="427.59999999999997" x2="513.5" y2="427.59999999999997" stroke="#222" stroke-width="1"/>
<line x1="50.0" y1="427.4" x2="52.5" y2="427.4" stroke="#333" stroke-width="0.9"/>
<text x="46.3" y="427.6" font-size="8" text-anchor="end" fill="#333" font-weight="normal" dominant-baseline="central" stroke="#333" stroke-width="0.05">0.00</text>
<line x1="50.0" y1="389.75" x2="52.5" y2="389.75" stroke="#333" stroke-width="0.9"/>
<text x="46.3" y="389.875" font-size="8" text-anchor="end" fill="#333" font-weight="normal" dominant-baseline="central" stroke="#333" stroke-width="0.05">0.25</text>
<line x1="50.0" y1="352.1" x2="52.5" y2="352.1" stroke="#333" stroke-width="0.9"/>
<text x="46.3" y="352.15" font-size="8" text-anchor="end" fill="#333" font-weight="normal" dominant-baseline="central" stroke="#333" stroke-width="0.05">0.50</text>
<line x1="50.0" y1="314.45" x2="52.5" y2="314.45" stroke="#333" stroke-width="0.9"/>
<text x="46.3" y="314.425" font-size="8" text-anchor="end" fill="#333" font-weight="normal" dominant-baseline="central" stroke="#333" stroke-width="0.05">0.75</text>
<line x1="50.0" y1="276.8" x2="52.5" y2="276.8" stroke="#333" stroke-width="0.9"/>
<text x="46.3" y="276.7" font-size="8" text-anchor="end" fill="#333" font-weight="normal" dominant-baseline="central" stroke="#333" stroke-width="0.05">1.00</text>
<text x="22.6" y="352.45" font-size="9.3" text-anchor="middle" fill="#000" font-weight="normal" dominant-baseline="central" textLength="106.7" lengthAdjust="spacingAndGlyphs" transform="rotate(-90 22.6 352.45)" stroke="#000" stroke-width="0.2">Cumulative productive frequency (%)</text>
<text x="134.9" y="444.5" font-size="7.8" text-anchor="start" fill="#1a1a1a" font-weight="normal" dominant-baseline="central" textLength="90" lengthAdjust="spacingAndGlyphs" stroke="#1a1a1a" stroke-width="0.05">Productive frequency interval</text>
<rect x="231" y="434" width="8.8" height="8.8" fill="#2b1852"/>
<text x="243.3" y="438.6" font-size="7.2" text-anchor="start" fill="#333" font-weight="normal" dominant-baseline="central" textLength="46.2" lengthAdjust="spacingAndGlyphs" stroke="#333" stroke-width="0.05">(0% - 0.005%]</text>
<rect x="231" y="446.4" width="8.8" height="8.8" fill="#2a4b8a"/>
<text x="243.3" y="451.0" font-size="7.2" text-anchor="start" fill="#333" font-weight="normal" dominant-baseline="central" textLength="56.3" lengthAdjust="spacingAndGlyphs" stroke="#333" stroke-width="0.05">(0.005% - 0.01%]</text>
<rect x="309" y="434" width="8.8" height="8.8" fill="#3d6ec0"/>
<text x="321.3" y="438.6" font-size="7.2" text-anchor="start" fill="#333" font-weight="normal" dominant-baseline="central" textLength="48.2" lengthAdjust="spacingAndGlyphs" stroke="#333" stroke-width="0.05">(0.01% - 0.1%]</text>
<rect x="309" y="446.4" width="8.8" height="8.8" fill="#8b8bcc"/>
<text x="321.3" y="451.0" font-size="7.2" text-anchor="start" fill="#333" font-weight="normal" dominant-baseline="central" textLength="42" lengthAdjust="spacingAndGlyphs" stroke="#333" stroke-width="0.05">(0.1% - 0.5%]</text>
<rect x="378" y="434" width="8.8" height="8.8" fill="#b9b7e2"/>
<text x="390.3" y="438.6" font-size="7.2" text-anchor="start" fill="#333" font-weight="normal" dominant-baseline="central" textLength="38.2" lengthAdjust="spacingAndGlyphs" stroke="#333" stroke-width="0.05">(0.5% - 1%]</text>
<rect x="378" y="446.4" width="8.8" height="8.8" fill="#e3e1f1"/>
<text x="390.3" y="451.0" font-size="7.2" text-anchor="start" fill="#333" font-weight="normal" dominant-baseline="central" textLength="29.6" lengthAdjust="spacingAndGlyphs" stroke="#333" stroke-width="0.05">(1% - Inf]</text>
</g>
</svg></body></html>
